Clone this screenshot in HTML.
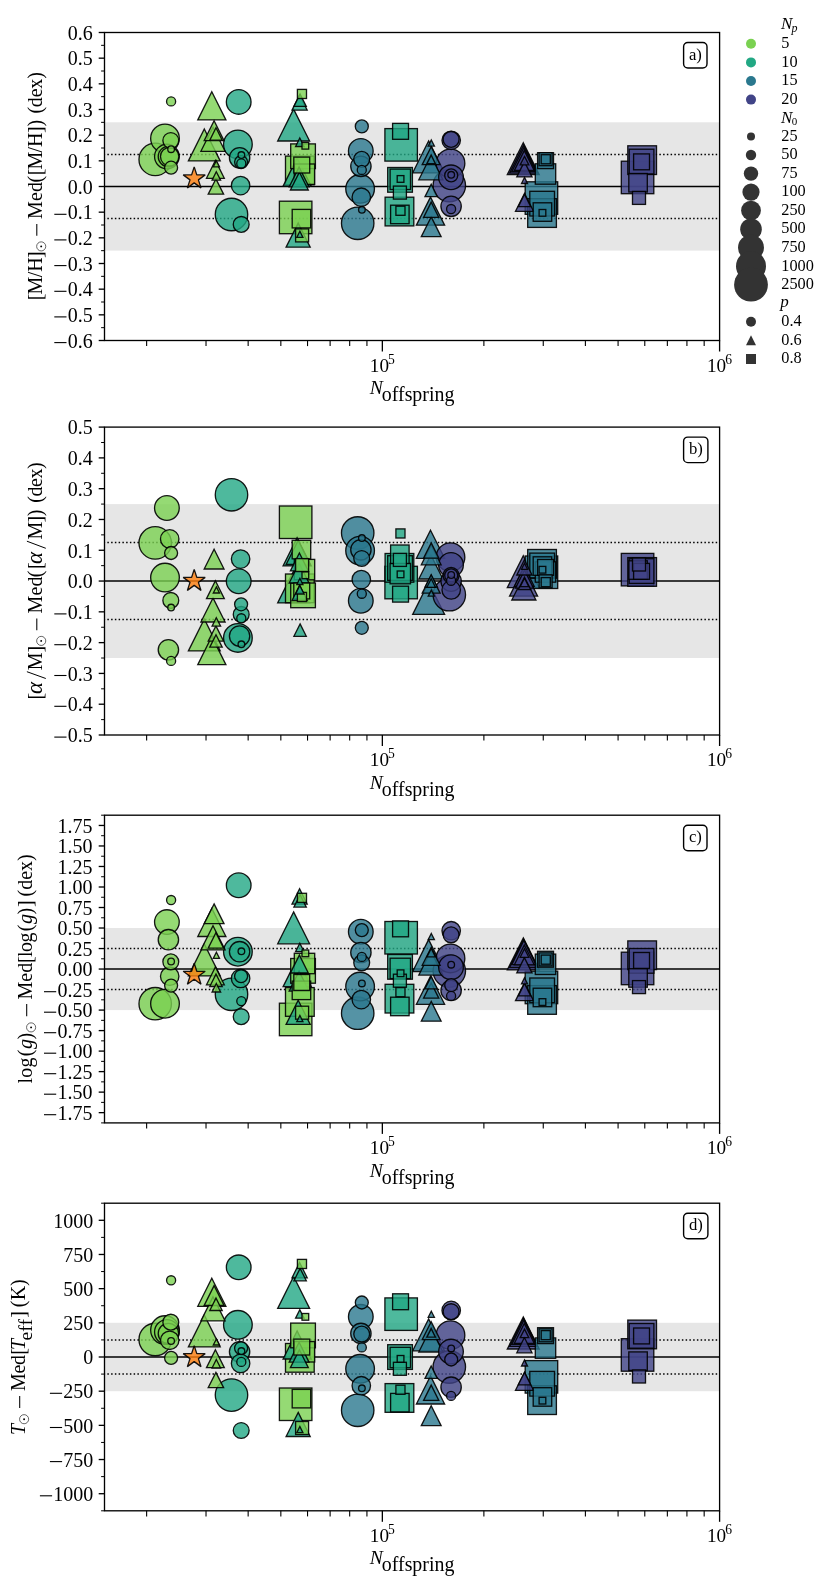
<!DOCTYPE html><html><head><meta charset="utf-8"><style>html,body{margin:0;padding:0;background:#fff}</style></head><body><svg width="831" height="1586" viewBox="0 0 831 1586" style="display:block;font-family:'Liberation Serif',serif">
<rect width="831" height="1586" fill="#fff"/>
<rect x="104.5" y="122.3" width="615.1" height="128.3" fill="#e6e6e6"/>
<line x1="104.5" x2="719.6" y1="154.4" y2="154.4" stroke="#000" stroke-width="1.5" stroke-dasharray="1.5 2.255" stroke-dashoffset="0.9"/>
<line x1="104.5" x2="719.6" y1="218.6" y2="218.6" stroke="#000" stroke-width="1.5" stroke-dasharray="1.5 2.255" stroke-dashoffset="0.9"/>
<line x1="104.5" x2="719.6" y1="186.5" y2="186.5" stroke="#000" stroke-width="1.5"/>
<g>
<circle cx="155.2" cy="159.4" r="16.23" fill="#7ad151" fill-opacity="0.8" stroke="#000" stroke-opacity="0.9" stroke-width="1.33"/>
<path d="M204.3 129.0L220.2 160.9L188.4 160.9Z" fill="#7ad151" fill-opacity="0.8" stroke="#000" stroke-opacity="0.9" stroke-width="1.33" stroke-linejoin="miter"/>
<circle cx="231.5" cy="214.5" r="16.23" fill="#22a884" fill-opacity="0.8" stroke="#000" stroke-opacity="0.9" stroke-width="1.33"/>
<rect x="279.4" y="201.2" width="32.5" height="32.5" fill="#7ad151" fill-opacity="0.8" stroke="#000" stroke-opacity="0.9" stroke-width="1.33"/>
<path d="M293.6 109.1L309.6 141.0L277.7 141.0Z" fill="#22a884" fill-opacity="0.8" stroke="#000" stroke-opacity="0.9" stroke-width="1.33" stroke-linejoin="miter"/>
<circle cx="357.7" cy="223.3" r="16.23" fill="#2a788e" fill-opacity="0.8" stroke="#000" stroke-opacity="0.9" stroke-width="1.33"/>
<rect x="384.9" y="128.6" width="32.5" height="32.5" fill="#22a884" fill-opacity="0.8" stroke="#000" stroke-opacity="0.9" stroke-width="1.33"/>
<path d="M428.6 140.9L444.6 172.8L412.7 172.8Z" fill="#2a788e" fill-opacity="0.8" stroke="#000" stroke-opacity="0.9" stroke-width="1.33" stroke-linejoin="miter"/>
<circle cx="449.3" cy="185.5" r="16.23" fill="#414487" fill-opacity="0.8" stroke="#000" stroke-opacity="0.9" stroke-width="1.33"/>
<path d="M523.3 142.7L539.2 174.6L507.3 174.6Z" fill="#414487" fill-opacity="0.8" stroke="#000" stroke-opacity="0.9" stroke-width="1.33" stroke-linejoin="miter"/>
<rect x="525.2" y="181.8" width="32.5" height="32.5" fill="#2a788e" fill-opacity="0.8" stroke="#000" stroke-opacity="0.9" stroke-width="1.33"/>
<rect x="621.3" y="161.2" width="32.5" height="32.5" fill="#414487" fill-opacity="0.8" stroke="#000" stroke-opacity="0.9" stroke-width="1.33"/>
<circle cx="165.0" cy="138.4" r="14.34" fill="#7ad151" fill-opacity="0.8" stroke="#000" stroke-opacity="0.9" stroke-width="1.33"/>
<path d="M211.8 91.8L225.9 119.9L197.8 119.9Z" fill="#7ad151" fill-opacity="0.8" stroke="#000" stroke-opacity="0.9" stroke-width="1.33" stroke-linejoin="miter"/>
<circle cx="237.9" cy="144.4" r="14.34" fill="#22a884" fill-opacity="0.8" stroke="#000" stroke-opacity="0.9" stroke-width="1.33"/>
<rect x="285.5" y="156.1" width="28.7" height="28.7" fill="#7ad151" fill-opacity="0.8" stroke="#000" stroke-opacity="0.9" stroke-width="1.33"/>
<path d="M297.1 158.1L311.2 186.2L283.1 186.2Z" fill="#22a884" fill-opacity="0.8" stroke="#000" stroke-opacity="0.9" stroke-width="1.33" stroke-linejoin="miter"/>
<circle cx="360.1" cy="188.8" r="14.34" fill="#2a788e" fill-opacity="0.8" stroke="#000" stroke-opacity="0.9" stroke-width="1.33"/>
<rect x="385.1" y="197.2" width="28.7" height="28.7" fill="#22a884" fill-opacity="0.8" stroke="#000" stroke-opacity="0.9" stroke-width="1.33"/>
<path d="M430.5 197.1L444.6 225.2L416.4 225.2Z" fill="#2a788e" fill-opacity="0.8" stroke="#000" stroke-opacity="0.9" stroke-width="1.33" stroke-linejoin="miter"/>
<circle cx="450.5" cy="163.4" r="14.34" fill="#414487" fill-opacity="0.8" stroke="#000" stroke-opacity="0.9" stroke-width="1.33"/>
<path d="M523.6 145.1L537.6 173.2L509.6 173.2Z" fill="#414487" fill-opacity="0.8" stroke="#000" stroke-opacity="0.9" stroke-width="1.33" stroke-linejoin="miter"/>
<rect x="527.7" y="198.7" width="28.7" height="28.7" fill="#2a788e" fill-opacity="0.8" stroke="#000" stroke-opacity="0.9" stroke-width="1.33"/>
<rect x="627.8" y="145.8" width="28.7" height="28.7" fill="#414487" fill-opacity="0.8" stroke="#000" stroke-opacity="0.9" stroke-width="1.33"/>
<circle cx="166.9" cy="156.6" r="12.34" fill="#7ad151" fill-opacity="0.8" stroke="#000" stroke-opacity="0.9" stroke-width="1.33"/>
<path d="M213.0 127.2L225.1 151.3L200.9 151.3Z" fill="#7ad151" fill-opacity="0.8" stroke="#000" stroke-opacity="0.9" stroke-width="1.33" stroke-linejoin="miter"/>
<circle cx="238.7" cy="101.9" r="12.34" fill="#22a884" fill-opacity="0.8" stroke="#000" stroke-opacity="0.9" stroke-width="1.33"/>
<rect x="290.7" y="143.9" width="24.7" height="24.7" fill="#7ad151" fill-opacity="0.8" stroke="#000" stroke-opacity="0.9" stroke-width="1.33"/>
<path d="M298.2 223.1L310.2 247.2L286.1 247.2Z" fill="#22a884" fill-opacity="0.8" stroke="#000" stroke-opacity="0.9" stroke-width="1.33" stroke-linejoin="miter"/>
<circle cx="360.8" cy="150.9" r="12.34" fill="#2a788e" fill-opacity="0.8" stroke="#000" stroke-opacity="0.9" stroke-width="1.33"/>
<rect x="387.7" y="167.5" width="24.7" height="24.7" fill="#22a884" fill-opacity="0.8" stroke="#000" stroke-opacity="0.9" stroke-width="1.33"/>
<path d="M430.8 155.7L442.9 179.8L418.8 179.8Z" fill="#2a788e" fill-opacity="0.8" stroke="#000" stroke-opacity="0.9" stroke-width="1.33" stroke-linejoin="miter"/>
<circle cx="451.0" cy="177.3" r="12.34" fill="#414487" fill-opacity="0.8" stroke="#000" stroke-opacity="0.9" stroke-width="1.33"/>
<path d="M523.9 147.6L535.9 171.7L511.8 171.7Z" fill="#414487" fill-opacity="0.8" stroke="#000" stroke-opacity="0.9" stroke-width="1.33" stroke-linejoin="miter"/>
<rect x="529.8" y="191.3" width="24.7" height="24.7" fill="#2a788e" fill-opacity="0.8" stroke="#000" stroke-opacity="0.9" stroke-width="1.33"/>
<rect x="629.2" y="149.2" width="24.7" height="24.7" fill="#414487" fill-opacity="0.8" stroke="#000" stroke-opacity="0.9" stroke-width="1.33"/>
<circle cx="168.4" cy="156.6" r="10.18" fill="#7ad151" fill-opacity="0.8" stroke="#000" stroke-opacity="0.9" stroke-width="1.33"/>
<path d="M214.1 120.8L224.0 140.6L204.2 140.6Z" fill="#7ad151" fill-opacity="0.8" stroke="#000" stroke-opacity="0.9" stroke-width="1.33" stroke-linejoin="miter"/>
<circle cx="239.6" cy="157.8" r="10.18" fill="#22a884" fill-opacity="0.8" stroke="#000" stroke-opacity="0.9" stroke-width="1.33"/>
<rect x="294.3" y="164.0" width="20.4" height="20.4" fill="#7ad151" fill-opacity="0.8" stroke="#000" stroke-opacity="0.9" stroke-width="1.33"/>
<path d="M299.1 167.1L309.0 186.9L289.2 186.9Z" fill="#22a884" fill-opacity="0.8" stroke="#000" stroke-opacity="0.9" stroke-width="1.33" stroke-linejoin="miter"/>
<circle cx="360.9" cy="166.3" r="10.18" fill="#2a788e" fill-opacity="0.8" stroke="#000" stroke-opacity="0.9" stroke-width="1.33"/>
<rect x="390.1" y="169.1" width="20.4" height="20.4" fill="#22a884" fill-opacity="0.8" stroke="#000" stroke-opacity="0.9" stroke-width="1.33"/>
<path d="M431.2 216.9L441.1 236.7L421.3 236.7Z" fill="#2a788e" fill-opacity="0.8" stroke="#000" stroke-opacity="0.9" stroke-width="1.33" stroke-linejoin="miter"/>
<circle cx="451.1" cy="206.3" r="10.18" fill="#414487" fill-opacity="0.8" stroke="#000" stroke-opacity="0.9" stroke-width="1.33"/>
<path d="M524.3 150.6L534.2 170.4L514.4 170.4Z" fill="#414487" fill-opacity="0.8" stroke="#000" stroke-opacity="0.9" stroke-width="1.33" stroke-linejoin="miter"/>
<rect x="535.3" y="163.8" width="20.4" height="20.4" fill="#2a788e" fill-opacity="0.8" stroke="#000" stroke-opacity="0.9" stroke-width="1.33"/>
<circle cx="169.7" cy="156.6" r="9.23" fill="#7ad151" fill-opacity="0.8" stroke="#000" stroke-opacity="0.9" stroke-width="1.33"/>
<path d="M215.4 160.4L224.3 178.3L206.5 178.3Z" fill="#7ad151" fill-opacity="0.8" stroke="#000" stroke-opacity="0.9" stroke-width="1.33" stroke-linejoin="miter"/>
<circle cx="240.6" cy="185.6" r="9.23" fill="#22a884" fill-opacity="0.8" stroke="#000" stroke-opacity="0.9" stroke-width="1.33"/>
<rect x="292.2" y="209.4" width="18.5" height="18.5" fill="#7ad151" fill-opacity="0.8" stroke="#000" stroke-opacity="0.9" stroke-width="1.33"/>
<path d="M299.4 172.1L308.3 190.0L290.4 190.0Z" fill="#22a884" fill-opacity="0.8" stroke="#000" stroke-opacity="0.9" stroke-width="1.33" stroke-linejoin="miter"/>
<circle cx="361.3" cy="197.2" r="9.23" fill="#2a788e" fill-opacity="0.8" stroke="#000" stroke-opacity="0.9" stroke-width="1.33"/>
<rect x="390.6" y="205.2" width="18.5" height="18.5" fill="#22a884" fill-opacity="0.8" stroke="#000" stroke-opacity="0.9" stroke-width="1.33"/>
<path d="M431.2 146.7L440.1 164.6L422.2 164.6Z" fill="#2a788e" fill-opacity="0.8" stroke="#000" stroke-opacity="0.9" stroke-width="1.33" stroke-linejoin="miter"/>
<circle cx="451.2" cy="140.3" r="9.23" fill="#414487" fill-opacity="0.8" stroke="#000" stroke-opacity="0.9" stroke-width="1.33"/>
<path d="M524.5 193.4L533.5 211.3L515.5 211.3Z" fill="#414487" fill-opacity="0.8" stroke="#000" stroke-opacity="0.9" stroke-width="1.33" stroke-linejoin="miter"/>
<rect x="533.2" y="202.8" width="18.5" height="18.5" fill="#2a788e" fill-opacity="0.8" stroke="#000" stroke-opacity="0.9" stroke-width="1.33"/>
<rect x="628.8" y="173.5" width="18.5" height="18.5" fill="#414487" fill-opacity="0.8" stroke="#000" stroke-opacity="0.9" stroke-width="1.33"/>
<circle cx="170.8" cy="140.5" r="7.93" fill="#7ad151" fill-opacity="0.8" stroke="#000" stroke-opacity="0.9" stroke-width="1.33"/>
<path d="M215.9 178.9L223.6 194.2L208.2 194.2Z" fill="#7ad151" fill-opacity="0.8" stroke="#000" stroke-opacity="0.9" stroke-width="1.33" stroke-linejoin="miter"/>
<circle cx="241.2" cy="224.4" r="7.93" fill="#22a884" fill-opacity="0.8" stroke="#000" stroke-opacity="0.9" stroke-width="1.33"/>
<rect x="293.8" y="157.1" width="15.9" height="15.9" fill="#7ad151" fill-opacity="0.8" stroke="#000" stroke-opacity="0.9" stroke-width="1.33"/>
<path d="M299.6 94.9L307.2 110.2L292.0 110.2Z" fill="#22a884" fill-opacity="0.8" stroke="#000" stroke-opacity="0.9" stroke-width="1.33" stroke-linejoin="miter"/>
<circle cx="361.7" cy="159.3" r="7.93" fill="#2a788e" fill-opacity="0.8" stroke="#000" stroke-opacity="0.9" stroke-width="1.33"/>
<rect x="392.6" y="123.4" width="15.9" height="15.9" fill="#22a884" fill-opacity="0.8" stroke="#000" stroke-opacity="0.9" stroke-width="1.33"/>
<path d="M431.2 202.1L438.8 217.4L423.6 217.4Z" fill="#2a788e" fill-opacity="0.8" stroke="#000" stroke-opacity="0.9" stroke-width="1.33" stroke-linejoin="miter"/>
<circle cx="451.1" cy="139.4" r="7.93" fill="#414487" fill-opacity="0.8" stroke="#000" stroke-opacity="0.9" stroke-width="1.33"/>
<path d="M524.4 161.6L532.0 176.9L516.8 176.9Z" fill="#414487" fill-opacity="0.8" stroke="#000" stroke-opacity="0.9" stroke-width="1.33" stroke-linejoin="miter"/>
<rect x="537.6" y="152.7" width="15.9" height="15.9" fill="#2a788e" fill-opacity="0.8" stroke="#000" stroke-opacity="0.9" stroke-width="1.33"/>
<rect x="633.6" y="153.9" width="15.9" height="15.9" fill="#414487" fill-opacity="0.8" stroke="#000" stroke-opacity="0.9" stroke-width="1.33"/>
<circle cx="171.1" cy="167.7" r="6.49" fill="#7ad151" fill-opacity="0.8" stroke="#000" stroke-opacity="0.9" stroke-width="1.33"/>
<path d="M216.0 127.8L222.2 140.2L209.8 140.2Z" fill="#7ad151" fill-opacity="0.8" stroke="#000" stroke-opacity="0.9" stroke-width="1.33" stroke-linejoin="miter"/>
<circle cx="241.1" cy="162.1" r="6.49" fill="#22a884" fill-opacity="0.8" stroke="#000" stroke-opacity="0.9" stroke-width="1.33"/>
<rect x="295.6" y="228.9" width="13.0" height="13.0" fill="#7ad151" fill-opacity="0.8" stroke="#000" stroke-opacity="0.9" stroke-width="1.33"/>
<path d="M300.1 94.0L306.3 106.4L293.9 106.4Z" fill="#22a884" fill-opacity="0.8" stroke="#000" stroke-opacity="0.9" stroke-width="1.33" stroke-linejoin="miter"/>
<circle cx="361.8" cy="126.4" r="6.49" fill="#2a788e" fill-opacity="0.8" stroke="#000" stroke-opacity="0.9" stroke-width="1.33"/>
<rect x="393.4" y="186.1" width="13.0" height="13.0" fill="#22a884" fill-opacity="0.8" stroke="#000" stroke-opacity="0.9" stroke-width="1.33"/>
<path d="M431.2 184.2L437.4 196.6L425.0 196.6Z" fill="#2a788e" fill-opacity="0.8" stroke="#000" stroke-opacity="0.9" stroke-width="1.33" stroke-linejoin="miter"/>
<circle cx="451.2" cy="175.4" r="6.49" fill="#414487" fill-opacity="0.8" stroke="#000" stroke-opacity="0.9" stroke-width="1.33"/>
<path d="M524.5 194.2L530.7 206.6L518.3 206.6Z" fill="#414487" fill-opacity="0.8" stroke="#000" stroke-opacity="0.9" stroke-width="1.33" stroke-linejoin="miter"/>
<rect x="539.1" y="152.7" width="13.0" height="13.0" fill="#2a788e" fill-opacity="0.8" stroke="#000" stroke-opacity="0.9" stroke-width="1.33"/>
<rect x="632.5" y="191.4" width="13.0" height="13.0" fill="#414487" fill-opacity="0.8" stroke="#000" stroke-opacity="0.9" stroke-width="1.33"/>
<circle cx="171.1" cy="101.4" r="4.54" fill="#7ad151" fill-opacity="0.8" stroke="#000" stroke-opacity="0.9" stroke-width="1.33"/>
<path d="M216.3 171.7L220.6 180.2L212.1 180.2Z" fill="#7ad151" fill-opacity="0.8" stroke="#000" stroke-opacity="0.9" stroke-width="1.33" stroke-linejoin="miter"/>
<circle cx="241.3" cy="163.4" r="4.54" fill="#22a884" fill-opacity="0.8" stroke="#000" stroke-opacity="0.9" stroke-width="1.33"/>
<rect x="297.4" y="89.4" width="9.1" height="9.1" fill="#7ad151" fill-opacity="0.8" stroke="#000" stroke-opacity="0.9" stroke-width="1.33"/>
<path d="M299.8 138.0L304.1 146.5L295.6 146.5Z" fill="#22a884" fill-opacity="0.8" stroke="#000" stroke-opacity="0.9" stroke-width="1.33" stroke-linejoin="miter"/>
<circle cx="361.8" cy="169.9" r="4.54" fill="#2a788e" fill-opacity="0.8" stroke="#000" stroke-opacity="0.9" stroke-width="1.33"/>
<rect x="395.9" y="206.2" width="9.1" height="9.1" fill="#22a884" fill-opacity="0.8" stroke="#000" stroke-opacity="0.9" stroke-width="1.33"/>
<path d="M431.2 155.1L435.4 163.6L426.9 163.6Z" fill="#2a788e" fill-opacity="0.8" stroke="#000" stroke-opacity="0.9" stroke-width="1.33" stroke-linejoin="miter"/>
<circle cx="451.1" cy="209.0" r="4.54" fill="#414487" fill-opacity="0.8" stroke="#000" stroke-opacity="0.9" stroke-width="1.33"/>
<path d="M524.5 156.4L528.8 164.9L520.2 164.9Z" fill="#414487" fill-opacity="0.8" stroke="#000" stroke-opacity="0.9" stroke-width="1.33" stroke-linejoin="miter"/>
<rect x="541.2" y="154.7" width="9.1" height="9.1" fill="#2a788e" fill-opacity="0.8" stroke="#000" stroke-opacity="0.9" stroke-width="1.33"/>
<circle cx="171.1" cy="149.2" r="3.33" fill="#7ad151" fill-opacity="0.8" stroke="#000" stroke-opacity="0.9" stroke-width="1.33"/>
<path d="M216.4 160.7L219.5 166.8L213.3 166.8Z" fill="#7ad151" fill-opacity="0.8" stroke="#000" stroke-opacity="0.9" stroke-width="1.33" stroke-linejoin="miter"/>
<circle cx="241.4" cy="155.1" r="3.33" fill="#22a884" fill-opacity="0.8" stroke="#000" stroke-opacity="0.9" stroke-width="1.33"/>
<rect x="302.0" y="142.4" width="6.7" height="6.7" fill="#7ad151" fill-opacity="0.8" stroke="#000" stroke-opacity="0.9" stroke-width="1.33"/>
<path d="M299.9 231.3L302.9 237.4L296.8 237.4Z" fill="#22a884" fill-opacity="0.8" stroke="#000" stroke-opacity="0.9" stroke-width="1.33" stroke-linejoin="miter"/>
<circle cx="361.9" cy="209.8" r="3.33" fill="#2a788e" fill-opacity="0.8" stroke="#000" stroke-opacity="0.9" stroke-width="1.33"/>
<rect x="397.2" y="175.6" width="6.7" height="6.7" fill="#22a884" fill-opacity="0.8" stroke="#000" stroke-opacity="0.9" stroke-width="1.33"/>
<path d="M431.3 140.0L434.4 146.1L428.2 146.1Z" fill="#2a788e" fill-opacity="0.8" stroke="#000" stroke-opacity="0.9" stroke-width="1.33" stroke-linejoin="miter"/>
<circle cx="451.2" cy="174.8" r="3.33" fill="#414487" fill-opacity="0.8" stroke="#000" stroke-opacity="0.9" stroke-width="1.33"/>
<path d="M524.5 177.4L527.5 183.5L521.5 183.5Z" fill="#414487" fill-opacity="0.8" stroke="#000" stroke-opacity="0.9" stroke-width="1.33" stroke-linejoin="miter"/>
<rect x="539.1" y="209.5" width="6.7" height="6.7" fill="#2a788e" fill-opacity="0.8" stroke="#000" stroke-opacity="0.9" stroke-width="1.33"/>
<polygon points="194.2,166.9 196.8,174.9 205.2,174.9 198.4,179.9 201.0,187.9 194.2,182.9 187.4,187.9 190.0,179.9 183.2,174.9 191.6,174.9" fill="#ff7f0e" fill-opacity="0.8" stroke="#000" stroke-opacity="0.9" stroke-width="1.33" stroke-linejoin="bevel"/>
</g>
<rect x="104.5" y="32.5" width="615.1" height="308.0" fill="none" stroke="#000" stroke-width="1.33"/>
<line x1="98.7" x2="104.5" y1="340.50" y2="340.50" stroke="#000" stroke-width="1.33"/>
<line x1="54.3" x2="66.5" y1="342.6" y2="342.6" stroke="#000" stroke-width="1.1"/>
<line x1="98.7" x2="104.5" y1="314.83" y2="314.83" stroke="#000" stroke-width="1.33"/>
<line x1="54.3" x2="66.5" y1="316.9" y2="316.9" stroke="#000" stroke-width="1.1"/>
<line x1="98.7" x2="104.5" y1="289.17" y2="289.17" stroke="#000" stroke-width="1.33"/>
<line x1="54.3" x2="66.5" y1="291.3" y2="291.3" stroke="#000" stroke-width="1.1"/>
<line x1="98.7" x2="104.5" y1="263.50" y2="263.50" stroke="#000" stroke-width="1.33"/>
<line x1="54.3" x2="66.5" y1="265.6" y2="265.6" stroke="#000" stroke-width="1.1"/>
<line x1="98.7" x2="104.5" y1="237.83" y2="237.83" stroke="#000" stroke-width="1.33"/>
<line x1="54.3" x2="66.5" y1="239.9" y2="239.9" stroke="#000" stroke-width="1.1"/>
<line x1="98.7" x2="104.5" y1="212.17" y2="212.17" stroke="#000" stroke-width="1.33"/>
<line x1="54.3" x2="66.5" y1="214.3" y2="214.3" stroke="#000" stroke-width="1.1"/>
<line x1="98.7" x2="104.5" y1="186.50" y2="186.50" stroke="#000" stroke-width="1.33"/>
<line x1="98.7" x2="104.5" y1="160.83" y2="160.83" stroke="#000" stroke-width="1.33"/>
<line x1="98.7" x2="104.5" y1="135.17" y2="135.17" stroke="#000" stroke-width="1.33"/>
<line x1="98.7" x2="104.5" y1="109.50" y2="109.50" stroke="#000" stroke-width="1.33"/>
<line x1="98.7" x2="104.5" y1="83.83" y2="83.83" stroke="#000" stroke-width="1.33"/>
<line x1="98.7" x2="104.5" y1="58.17" y2="58.17" stroke="#000" stroke-width="1.33"/>
<line x1="98.7" x2="104.5" y1="32.50" y2="32.50" stroke="#000" stroke-width="1.33"/>
<line x1="101.1" x2="104.5" y1="327.67" y2="327.67" stroke="#000" stroke-width="1"/>
<line x1="101.1" x2="104.5" y1="302.00" y2="302.00" stroke="#000" stroke-width="1"/>
<line x1="101.1" x2="104.5" y1="276.33" y2="276.33" stroke="#000" stroke-width="1"/>
<line x1="101.1" x2="104.5" y1="250.67" y2="250.67" stroke="#000" stroke-width="1"/>
<line x1="101.1" x2="104.5" y1="225.00" y2="225.00" stroke="#000" stroke-width="1"/>
<line x1="101.1" x2="104.5" y1="199.33" y2="199.33" stroke="#000" stroke-width="1"/>
<line x1="101.1" x2="104.5" y1="173.67" y2="173.67" stroke="#000" stroke-width="1"/>
<line x1="101.1" x2="104.5" y1="148.00" y2="148.00" stroke="#000" stroke-width="1"/>
<line x1="101.1" x2="104.5" y1="122.33" y2="122.33" stroke="#000" stroke-width="1"/>
<line x1="101.1" x2="104.5" y1="96.67" y2="96.67" stroke="#000" stroke-width="1"/>
<line x1="101.1" x2="104.5" y1="71.00" y2="71.00" stroke="#000" stroke-width="1"/>
<line x1="101.1" x2="104.5" y1="45.33" y2="45.33" stroke="#000" stroke-width="1"/>
<line x1="146.63" x2="146.63" y1="340.5" y2="346.1" stroke="#000" stroke-width="1.1"/>
<line x1="206.02" x2="206.02" y1="340.5" y2="346.1" stroke="#000" stroke-width="1.1"/>
<line x1="248.15" x2="248.15" y1="340.5" y2="346.1" stroke="#000" stroke-width="1.1"/>
<line x1="280.84" x2="280.84" y1="340.5" y2="346.1" stroke="#000" stroke-width="1.1"/>
<line x1="307.54" x2="307.54" y1="340.5" y2="346.1" stroke="#000" stroke-width="1.1"/>
<line x1="330.12" x2="330.12" y1="340.5" y2="346.1" stroke="#000" stroke-width="1.1"/>
<line x1="349.68" x2="349.68" y1="340.5" y2="346.1" stroke="#000" stroke-width="1.1"/>
<line x1="366.93" x2="366.93" y1="340.5" y2="346.1" stroke="#000" stroke-width="1.1"/>
<line x1="382.36" x2="382.36" y1="340.5" y2="351.5" stroke="#000" stroke-width="1.33"/>
<line x1="483.88" x2="483.88" y1="340.5" y2="346.1" stroke="#000" stroke-width="1.1"/>
<line x1="543.26" x2="543.26" y1="340.5" y2="346.1" stroke="#000" stroke-width="1.1"/>
<line x1="585.40" x2="585.40" y1="340.5" y2="346.1" stroke="#000" stroke-width="1.1"/>
<line x1="618.08" x2="618.08" y1="340.5" y2="346.1" stroke="#000" stroke-width="1.1"/>
<line x1="644.78" x2="644.78" y1="340.5" y2="346.1" stroke="#000" stroke-width="1.1"/>
<line x1="667.36" x2="667.36" y1="340.5" y2="346.1" stroke="#000" stroke-width="1.1"/>
<line x1="686.92" x2="686.92" y1="340.5" y2="346.1" stroke="#000" stroke-width="1.1"/>
<line x1="704.17" x2="704.17" y1="340.5" y2="346.1" stroke="#000" stroke-width="1.1"/>
<line x1="719.6" x2="719.6" y1="340.5" y2="351.5" stroke="#000" stroke-width="1.33"/>
<rect x="683.6" y="42.5" width="23.4" height="25.5" rx="4.2" fill="#fff" stroke="#000" stroke-width="1.4"/>
<rect x="104.5" y="504.1" width="615.1" height="153.9" fill="#e6e6e6"/>
<line x1="104.5" x2="719.6" y1="542.6" y2="542.6" stroke="#000" stroke-width="1.5" stroke-dasharray="1.5 2.255" stroke-dashoffset="0.9"/>
<line x1="104.5" x2="719.6" y1="619.5" y2="619.5" stroke="#000" stroke-width="1.5" stroke-dasharray="1.5 2.255" stroke-dashoffset="0.9"/>
<line x1="104.5" x2="719.6" y1="581.0" y2="581.0" stroke="#000" stroke-width="1.5"/>
<g>
<circle cx="155.2" cy="542.9" r="16.23" fill="#7ad151" fill-opacity="0.8" stroke="#000" stroke-opacity="0.9" stroke-width="1.33"/>
<path d="M204.3 619.0L220.2 650.9L188.4 650.9Z" fill="#7ad151" fill-opacity="0.8" stroke="#000" stroke-opacity="0.9" stroke-width="1.33" stroke-linejoin="miter"/>
<circle cx="231.5" cy="494.8" r="16.23" fill="#22a884" fill-opacity="0.8" stroke="#000" stroke-opacity="0.9" stroke-width="1.33"/>
<rect x="279.4" y="506.0" width="32.5" height="32.5" fill="#7ad151" fill-opacity="0.8" stroke="#000" stroke-opacity="0.9" stroke-width="1.33"/>
<path d="M293.6 571.0L309.6 602.9L277.7 602.9Z" fill="#22a884" fill-opacity="0.8" stroke="#000" stroke-opacity="0.9" stroke-width="1.33" stroke-linejoin="miter"/>
<circle cx="357.7" cy="533.0" r="16.23" fill="#2a788e" fill-opacity="0.8" stroke="#000" stroke-opacity="0.9" stroke-width="1.33"/>
<rect x="384.9" y="566.3" width="32.5" height="32.5" fill="#22a884" fill-opacity="0.8" stroke="#000" stroke-opacity="0.9" stroke-width="1.33"/>
<path d="M428.6 582.5L444.6 614.4L412.7 614.4Z" fill="#2a788e" fill-opacity="0.8" stroke="#000" stroke-opacity="0.9" stroke-width="1.33" stroke-linejoin="miter"/>
<circle cx="449.3" cy="594.7" r="16.23" fill="#414487" fill-opacity="0.8" stroke="#000" stroke-opacity="0.9" stroke-width="1.33"/>
<path d="M523.3 555.7L539.2 587.6L507.3 587.6Z" fill="#414487" fill-opacity="0.8" stroke="#000" stroke-opacity="0.9" stroke-width="1.33" stroke-linejoin="miter"/>
<rect x="525.2" y="556.0" width="32.5" height="32.5" fill="#2a788e" fill-opacity="0.8" stroke="#000" stroke-opacity="0.9" stroke-width="1.33"/>
<rect x="621.3" y="553.4" width="32.5" height="32.5" fill="#414487" fill-opacity="0.8" stroke="#000" stroke-opacity="0.9" stroke-width="1.33"/>
<circle cx="165.0" cy="577.6" r="14.34" fill="#7ad151" fill-opacity="0.8" stroke="#000" stroke-opacity="0.9" stroke-width="1.33"/>
<path d="M211.8 636.5L225.9 664.6L197.8 664.6Z" fill="#7ad151" fill-opacity="0.8" stroke="#000" stroke-opacity="0.9" stroke-width="1.33" stroke-linejoin="miter"/>
<circle cx="237.9" cy="637.9" r="14.34" fill="#22a884" fill-opacity="0.8" stroke="#000" stroke-opacity="0.9" stroke-width="1.33"/>
<rect x="285.5" y="574.0" width="28.7" height="28.7" fill="#7ad151" fill-opacity="0.8" stroke="#000" stroke-opacity="0.9" stroke-width="1.33"/>
<path d="M297.1 537.8L311.2 565.9L283.1 565.9Z" fill="#22a884" fill-opacity="0.8" stroke="#000" stroke-opacity="0.9" stroke-width="1.33" stroke-linejoin="miter"/>
<circle cx="360.1" cy="550.7" r="14.34" fill="#2a788e" fill-opacity="0.8" stroke="#000" stroke-opacity="0.9" stroke-width="1.33"/>
<rect x="385.1" y="553.5" width="28.7" height="28.7" fill="#22a884" fill-opacity="0.8" stroke="#000" stroke-opacity="0.9" stroke-width="1.33"/>
<path d="M430.5 530.2L444.6 558.3L416.4 558.3Z" fill="#2a788e" fill-opacity="0.8" stroke="#000" stroke-opacity="0.9" stroke-width="1.33" stroke-linejoin="miter"/>
<circle cx="450.5" cy="557.2" r="14.34" fill="#414487" fill-opacity="0.8" stroke="#000" stroke-opacity="0.9" stroke-width="1.33"/>
<path d="M523.6 568.0L537.6 596.1L509.6 596.1Z" fill="#414487" fill-opacity="0.8" stroke="#000" stroke-opacity="0.9" stroke-width="1.33" stroke-linejoin="miter"/>
<rect x="527.7" y="549.5" width="28.7" height="28.7" fill="#2a788e" fill-opacity="0.8" stroke="#000" stroke-opacity="0.9" stroke-width="1.33"/>
<rect x="627.8" y="557.6" width="28.7" height="28.7" fill="#414487" fill-opacity="0.8" stroke="#000" stroke-opacity="0.9" stroke-width="1.33"/>
<circle cx="166.9" cy="508.0" r="12.34" fill="#7ad151" fill-opacity="0.8" stroke="#000" stroke-opacity="0.9" stroke-width="1.33"/>
<path d="M213.0 597.9L225.1 622.0L200.9 622.0Z" fill="#7ad151" fill-opacity="0.8" stroke="#000" stroke-opacity="0.9" stroke-width="1.33" stroke-linejoin="miter"/>
<circle cx="238.7" cy="581.2" r="12.34" fill="#22a884" fill-opacity="0.8" stroke="#000" stroke-opacity="0.9" stroke-width="1.33"/>
<rect x="290.7" y="583.0" width="24.7" height="24.7" fill="#7ad151" fill-opacity="0.8" stroke="#000" stroke-opacity="0.9" stroke-width="1.33"/>
<path d="M298.2 540.4L310.2 564.5L286.1 564.5Z" fill="#22a884" fill-opacity="0.8" stroke="#000" stroke-opacity="0.9" stroke-width="1.33" stroke-linejoin="miter"/>
<circle cx="360.8" cy="600.7" r="12.34" fill="#2a788e" fill-opacity="0.8" stroke="#000" stroke-opacity="0.9" stroke-width="1.33"/>
<rect x="387.7" y="555.7" width="24.7" height="24.7" fill="#22a884" fill-opacity="0.8" stroke="#000" stroke-opacity="0.9" stroke-width="1.33"/>
<path d="M430.8 554.9L442.9 579.0L418.8 579.0Z" fill="#2a788e" fill-opacity="0.8" stroke="#000" stroke-opacity="0.9" stroke-width="1.33" stroke-linejoin="miter"/>
<circle cx="451.0" cy="564.9" r="12.34" fill="#414487" fill-opacity="0.8" stroke="#000" stroke-opacity="0.9" stroke-width="1.33"/>
<path d="M523.9 575.9L535.9 600.0L511.8 600.0Z" fill="#414487" fill-opacity="0.8" stroke="#000" stroke-opacity="0.9" stroke-width="1.33" stroke-linejoin="miter"/>
<rect x="529.8" y="553.1" width="24.7" height="24.7" fill="#2a788e" fill-opacity="0.8" stroke="#000" stroke-opacity="0.9" stroke-width="1.33"/>
<rect x="629.2" y="558.7" width="24.7" height="24.7" fill="#414487" fill-opacity="0.8" stroke="#000" stroke-opacity="0.9" stroke-width="1.33"/>
<circle cx="168.4" cy="649.8" r="10.18" fill="#7ad151" fill-opacity="0.8" stroke="#000" stroke-opacity="0.9" stroke-width="1.33"/>
<path d="M214.1 549.2L224.0 569.0L204.2 569.0Z" fill="#7ad151" fill-opacity="0.8" stroke="#000" stroke-opacity="0.9" stroke-width="1.33" stroke-linejoin="miter"/>
<circle cx="239.6" cy="636.1" r="10.18" fill="#22a884" fill-opacity="0.8" stroke="#000" stroke-opacity="0.9" stroke-width="1.33"/>
<rect x="294.3" y="559.4" width="20.4" height="20.4" fill="#7ad151" fill-opacity="0.8" stroke="#000" stroke-opacity="0.9" stroke-width="1.33"/>
<path d="M299.1 563.2L309.0 583.0L289.2 583.0Z" fill="#22a884" fill-opacity="0.8" stroke="#000" stroke-opacity="0.9" stroke-width="1.33" stroke-linejoin="miter"/>
<circle cx="360.9" cy="549.8" r="10.18" fill="#2a788e" fill-opacity="0.8" stroke="#000" stroke-opacity="0.9" stroke-width="1.33"/>
<rect x="390.1" y="563.4" width="20.4" height="20.4" fill="#22a884" fill-opacity="0.8" stroke="#000" stroke-opacity="0.9" stroke-width="1.33"/>
<path d="M431.2 545.0L441.1 564.8L421.3 564.8Z" fill="#2a788e" fill-opacity="0.8" stroke="#000" stroke-opacity="0.9" stroke-width="1.33" stroke-linejoin="miter"/>
<circle cx="451.1" cy="581.2" r="10.18" fill="#414487" fill-opacity="0.8" stroke="#000" stroke-opacity="0.9" stroke-width="1.33"/>
<path d="M524.3 566.5L534.2 586.3L514.4 586.3Z" fill="#414487" fill-opacity="0.8" stroke="#000" stroke-opacity="0.9" stroke-width="1.33" stroke-linejoin="miter"/>
<rect x="535.3" y="561.8" width="20.4" height="20.4" fill="#2a788e" fill-opacity="0.8" stroke="#000" stroke-opacity="0.9" stroke-width="1.33"/>
<circle cx="169.7" cy="538.9" r="9.23" fill="#7ad151" fill-opacity="0.8" stroke="#000" stroke-opacity="0.9" stroke-width="1.33"/>
<path d="M215.4 580.7L224.3 598.6L206.5 598.6Z" fill="#7ad151" fill-opacity="0.8" stroke="#000" stroke-opacity="0.9" stroke-width="1.33" stroke-linejoin="miter"/>
<circle cx="240.6" cy="559.1" r="9.23" fill="#22a884" fill-opacity="0.8" stroke="#000" stroke-opacity="0.9" stroke-width="1.33"/>
<rect x="292.2" y="540.3" width="18.5" height="18.5" fill="#7ad151" fill-opacity="0.8" stroke="#000" stroke-opacity="0.9" stroke-width="1.33"/>
<path d="M299.4 553.0L308.3 570.9L290.4 570.9Z" fill="#22a884" fill-opacity="0.8" stroke="#000" stroke-opacity="0.9" stroke-width="1.33" stroke-linejoin="miter"/>
<circle cx="361.3" cy="579.6" r="9.23" fill="#2a788e" fill-opacity="0.8" stroke="#000" stroke-opacity="0.9" stroke-width="1.33"/>
<rect x="390.6" y="545.0" width="18.5" height="18.5" fill="#22a884" fill-opacity="0.8" stroke="#000" stroke-opacity="0.9" stroke-width="1.33"/>
<path d="M431.2 575.3L440.1 593.2L422.2 593.2Z" fill="#2a788e" fill-opacity="0.8" stroke="#000" stroke-opacity="0.9" stroke-width="1.33" stroke-linejoin="miter"/>
<circle cx="451.2" cy="589.9" r="9.23" fill="#414487" fill-opacity="0.8" stroke="#000" stroke-opacity="0.9" stroke-width="1.33"/>
<path d="M524.5 570.3L533.5 588.2L515.5 588.2Z" fill="#414487" fill-opacity="0.8" stroke="#000" stroke-opacity="0.9" stroke-width="1.33" stroke-linejoin="miter"/>
<rect x="533.2" y="556.8" width="18.5" height="18.5" fill="#2a788e" fill-opacity="0.8" stroke="#000" stroke-opacity="0.9" stroke-width="1.33"/>
<rect x="628.8" y="560.8" width="18.5" height="18.5" fill="#414487" fill-opacity="0.8" stroke="#000" stroke-opacity="0.9" stroke-width="1.33"/>
<circle cx="170.8" cy="600.4" r="7.93" fill="#7ad151" fill-opacity="0.8" stroke="#000" stroke-opacity="0.9" stroke-width="1.33"/>
<path d="M215.9 625.9L223.6 641.2L208.2 641.2Z" fill="#7ad151" fill-opacity="0.8" stroke="#000" stroke-opacity="0.9" stroke-width="1.33" stroke-linejoin="miter"/>
<circle cx="241.2" cy="614.4" r="7.93" fill="#22a884" fill-opacity="0.8" stroke="#000" stroke-opacity="0.9" stroke-width="1.33"/>
<rect x="293.8" y="583.0" width="15.9" height="15.9" fill="#7ad151" fill-opacity="0.8" stroke="#000" stroke-opacity="0.9" stroke-width="1.33"/>
<path d="M299.6 585.2L307.2 600.5L292.0 600.5Z" fill="#22a884" fill-opacity="0.8" stroke="#000" stroke-opacity="0.9" stroke-width="1.33" stroke-linejoin="miter"/>
<circle cx="361.7" cy="558.5" r="7.93" fill="#2a788e" fill-opacity="0.8" stroke="#000" stroke-opacity="0.9" stroke-width="1.33"/>
<rect x="392.6" y="586.2" width="15.9" height="15.9" fill="#22a884" fill-opacity="0.8" stroke="#000" stroke-opacity="0.9" stroke-width="1.33"/>
<path d="M431.2 542.9L438.8 558.2L423.6 558.2Z" fill="#2a788e" fill-opacity="0.8" stroke="#000" stroke-opacity="0.9" stroke-width="1.33" stroke-linejoin="miter"/>
<circle cx="451.1" cy="575.4" r="7.93" fill="#414487" fill-opacity="0.8" stroke="#000" stroke-opacity="0.9" stroke-width="1.33"/>
<path d="M524.4 559.7L532.0 575.0L516.8 575.0Z" fill="#414487" fill-opacity="0.8" stroke="#000" stroke-opacity="0.9" stroke-width="1.33" stroke-linejoin="miter"/>
<rect x="537.6" y="559.5" width="15.9" height="15.9" fill="#2a788e" fill-opacity="0.8" stroke="#000" stroke-opacity="0.9" stroke-width="1.33"/>
<rect x="633.6" y="563.4" width="15.9" height="15.9" fill="#414487" fill-opacity="0.8" stroke="#000" stroke-opacity="0.9" stroke-width="1.33"/>
<circle cx="171.1" cy="553.0" r="6.49" fill="#7ad151" fill-opacity="0.8" stroke="#000" stroke-opacity="0.9" stroke-width="1.33"/>
<path d="M216.0 634.7L222.2 647.1L209.8 647.1Z" fill="#7ad151" fill-opacity="0.8" stroke="#000" stroke-opacity="0.9" stroke-width="1.33" stroke-linejoin="miter"/>
<circle cx="241.1" cy="604.3" r="6.49" fill="#22a884" fill-opacity="0.8" stroke="#000" stroke-opacity="0.9" stroke-width="1.33"/>
<rect x="295.6" y="558.6" width="13.0" height="13.0" fill="#7ad151" fill-opacity="0.8" stroke="#000" stroke-opacity="0.9" stroke-width="1.33"/>
<path d="M300.1 623.9L306.3 636.3L293.9 636.3Z" fill="#22a884" fill-opacity="0.8" stroke="#000" stroke-opacity="0.9" stroke-width="1.33" stroke-linejoin="miter"/>
<circle cx="361.8" cy="627.8" r="6.49" fill="#2a788e" fill-opacity="0.8" stroke="#000" stroke-opacity="0.9" stroke-width="1.33"/>
<rect x="393.4" y="553.4" width="13.0" height="13.0" fill="#22a884" fill-opacity="0.8" stroke="#000" stroke-opacity="0.9" stroke-width="1.33"/>
<path d="M431.2 574.7L437.4 587.1L425.0 587.1Z" fill="#2a788e" fill-opacity="0.8" stroke="#000" stroke-opacity="0.9" stroke-width="1.33" stroke-linejoin="miter"/>
<circle cx="451.2" cy="575.4" r="6.49" fill="#414487" fill-opacity="0.8" stroke="#000" stroke-opacity="0.9" stroke-width="1.33"/>
<path d="M524.5 577.2L530.7 589.6L518.3 589.6Z" fill="#414487" fill-opacity="0.8" stroke="#000" stroke-opacity="0.9" stroke-width="1.33" stroke-linejoin="miter"/>
<rect x="539.1" y="574.8" width="13.0" height="13.0" fill="#2a788e" fill-opacity="0.8" stroke="#000" stroke-opacity="0.9" stroke-width="1.33"/>
<rect x="632.5" y="558.0" width="13.0" height="13.0" fill="#414487" fill-opacity="0.8" stroke="#000" stroke-opacity="0.9" stroke-width="1.33"/>
<circle cx="171.1" cy="660.9" r="4.54" fill="#7ad151" fill-opacity="0.8" stroke="#000" stroke-opacity="0.9" stroke-width="1.33"/>
<path d="M216.3 617.7L220.6 626.2L212.1 626.2Z" fill="#7ad151" fill-opacity="0.8" stroke="#000" stroke-opacity="0.9" stroke-width="1.33" stroke-linejoin="miter"/>
<circle cx="241.3" cy="618.3" r="4.54" fill="#22a884" fill-opacity="0.8" stroke="#000" stroke-opacity="0.9" stroke-width="1.33"/>
<rect x="297.4" y="592.4" width="9.1" height="9.1" fill="#7ad151" fill-opacity="0.8" stroke="#000" stroke-opacity="0.9" stroke-width="1.33"/>
<path d="M299.8 585.5L304.1 594.0L295.6 594.0Z" fill="#22a884" fill-opacity="0.8" stroke="#000" stroke-opacity="0.9" stroke-width="1.33" stroke-linejoin="miter"/>
<circle cx="361.8" cy="593.7" r="4.54" fill="#2a788e" fill-opacity="0.8" stroke="#000" stroke-opacity="0.9" stroke-width="1.33"/>
<rect x="395.9" y="528.9" width="9.1" height="9.1" fill="#22a884" fill-opacity="0.8" stroke="#000" stroke-opacity="0.9" stroke-width="1.33"/>
<path d="M431.2 578.8L435.4 587.3L426.9 587.3Z" fill="#2a788e" fill-opacity="0.8" stroke="#000" stroke-opacity="0.9" stroke-width="1.33" stroke-linejoin="miter"/>
<circle cx="451.1" cy="580.7" r="4.54" fill="#414487" fill-opacity="0.8" stroke="#000" stroke-opacity="0.9" stroke-width="1.33"/>
<path d="M524.5 578.2L528.8 586.7L520.2 586.7Z" fill="#414487" fill-opacity="0.8" stroke="#000" stroke-opacity="0.9" stroke-width="1.33" stroke-linejoin="miter"/>
<rect x="541.2" y="577.6" width="9.1" height="9.1" fill="#2a788e" fill-opacity="0.8" stroke="#000" stroke-opacity="0.9" stroke-width="1.33"/>
<circle cx="171.1" cy="607.6" r="3.33" fill="#7ad151" fill-opacity="0.8" stroke="#000" stroke-opacity="0.9" stroke-width="1.33"/>
<path d="M216.4 586.9L219.5 593.0L213.3 593.0Z" fill="#7ad151" fill-opacity="0.8" stroke="#000" stroke-opacity="0.9" stroke-width="1.33" stroke-linejoin="miter"/>
<circle cx="241.4" cy="644.3" r="3.33" fill="#22a884" fill-opacity="0.8" stroke="#000" stroke-opacity="0.9" stroke-width="1.33"/>
<rect x="302.0" y="571.9" width="6.7" height="6.7" fill="#7ad151" fill-opacity="0.8" stroke="#000" stroke-opacity="0.9" stroke-width="1.33"/>
<path d="M299.9 578.4L302.9 584.5L296.8 584.5Z" fill="#22a884" fill-opacity="0.8" stroke="#000" stroke-opacity="0.9" stroke-width="1.33" stroke-linejoin="miter"/>
<circle cx="361.9" cy="538.1" r="3.33" fill="#2a788e" fill-opacity="0.8" stroke="#000" stroke-opacity="0.9" stroke-width="1.33"/>
<rect x="397.2" y="571.0" width="6.7" height="6.7" fill="#22a884" fill-opacity="0.8" stroke="#000" stroke-opacity="0.9" stroke-width="1.33"/>
<path d="M431.3 590.1L434.4 596.2L428.2 596.2Z" fill="#2a788e" fill-opacity="0.8" stroke="#000" stroke-opacity="0.9" stroke-width="1.33" stroke-linejoin="miter"/>
<circle cx="451.2" cy="575.0" r="3.33" fill="#414487" fill-opacity="0.8" stroke="#000" stroke-opacity="0.9" stroke-width="1.33"/>
<path d="M524.5 563.2L527.5 569.3L521.5 569.3Z" fill="#414487" fill-opacity="0.8" stroke="#000" stroke-opacity="0.9" stroke-width="1.33" stroke-linejoin="miter"/>
<rect x="539.1" y="566.4" width="6.7" height="6.7" fill="#2a788e" fill-opacity="0.8" stroke="#000" stroke-opacity="0.9" stroke-width="1.33"/>
<polygon points="194.2,569.4 196.8,577.4 205.2,577.4 198.4,582.4 201.0,590.4 194.2,585.4 187.4,590.4 190.0,582.4 183.2,577.4 191.6,577.4" fill="#ff7f0e" fill-opacity="0.8" stroke="#000" stroke-opacity="0.9" stroke-width="1.33" stroke-linejoin="bevel"/>
</g>
<rect x="104.5" y="427.1" width="615.1" height="307.9" fill="none" stroke="#000" stroke-width="1.33"/>
<line x1="98.7" x2="104.5" y1="735.00" y2="735.00" stroke="#000" stroke-width="1.33"/>
<line x1="54.3" x2="66.5" y1="737.1" y2="737.1" stroke="#000" stroke-width="1.1"/>
<line x1="98.7" x2="104.5" y1="704.21" y2="704.21" stroke="#000" stroke-width="1.33"/>
<line x1="54.3" x2="66.5" y1="706.3" y2="706.3" stroke="#000" stroke-width="1.1"/>
<line x1="98.7" x2="104.5" y1="673.42" y2="673.42" stroke="#000" stroke-width="1.33"/>
<line x1="54.3" x2="66.5" y1="675.5" y2="675.5" stroke="#000" stroke-width="1.1"/>
<line x1="98.7" x2="104.5" y1="642.63" y2="642.63" stroke="#000" stroke-width="1.33"/>
<line x1="54.3" x2="66.5" y1="644.7" y2="644.7" stroke="#000" stroke-width="1.1"/>
<line x1="98.7" x2="104.5" y1="611.84" y2="611.84" stroke="#000" stroke-width="1.33"/>
<line x1="54.3" x2="66.5" y1="613.9" y2="613.9" stroke="#000" stroke-width="1.1"/>
<line x1="98.7" x2="104.5" y1="581.05" y2="581.05" stroke="#000" stroke-width="1.33"/>
<line x1="98.7" x2="104.5" y1="550.26" y2="550.26" stroke="#000" stroke-width="1.33"/>
<line x1="98.7" x2="104.5" y1="519.47" y2="519.47" stroke="#000" stroke-width="1.33"/>
<line x1="98.7" x2="104.5" y1="488.68" y2="488.68" stroke="#000" stroke-width="1.33"/>
<line x1="98.7" x2="104.5" y1="457.89" y2="457.89" stroke="#000" stroke-width="1.33"/>
<line x1="98.7" x2="104.5" y1="427.10" y2="427.10" stroke="#000" stroke-width="1.33"/>
<line x1="101.1" x2="104.5" y1="719.61" y2="719.61" stroke="#000" stroke-width="1"/>
<line x1="101.1" x2="104.5" y1="688.82" y2="688.82" stroke="#000" stroke-width="1"/>
<line x1="101.1" x2="104.5" y1="658.03" y2="658.03" stroke="#000" stroke-width="1"/>
<line x1="101.1" x2="104.5" y1="627.24" y2="627.24" stroke="#000" stroke-width="1"/>
<line x1="101.1" x2="104.5" y1="596.45" y2="596.45" stroke="#000" stroke-width="1"/>
<line x1="101.1" x2="104.5" y1="565.65" y2="565.65" stroke="#000" stroke-width="1"/>
<line x1="101.1" x2="104.5" y1="534.87" y2="534.87" stroke="#000" stroke-width="1"/>
<line x1="101.1" x2="104.5" y1="504.08" y2="504.08" stroke="#000" stroke-width="1"/>
<line x1="101.1" x2="104.5" y1="473.29" y2="473.29" stroke="#000" stroke-width="1"/>
<line x1="101.1" x2="104.5" y1="442.50" y2="442.50" stroke="#000" stroke-width="1"/>
<line x1="146.63" x2="146.63" y1="735.0" y2="740.6" stroke="#000" stroke-width="1.1"/>
<line x1="206.02" x2="206.02" y1="735.0" y2="740.6" stroke="#000" stroke-width="1.1"/>
<line x1="248.15" x2="248.15" y1="735.0" y2="740.6" stroke="#000" stroke-width="1.1"/>
<line x1="280.84" x2="280.84" y1="735.0" y2="740.6" stroke="#000" stroke-width="1.1"/>
<line x1="307.54" x2="307.54" y1="735.0" y2="740.6" stroke="#000" stroke-width="1.1"/>
<line x1="330.12" x2="330.12" y1="735.0" y2="740.6" stroke="#000" stroke-width="1.1"/>
<line x1="349.68" x2="349.68" y1="735.0" y2="740.6" stroke="#000" stroke-width="1.1"/>
<line x1="366.93" x2="366.93" y1="735.0" y2="740.6" stroke="#000" stroke-width="1.1"/>
<line x1="382.36" x2="382.36" y1="735.0" y2="746.0" stroke="#000" stroke-width="1.33"/>
<line x1="483.88" x2="483.88" y1="735.0" y2="740.6" stroke="#000" stroke-width="1.1"/>
<line x1="543.26" x2="543.26" y1="735.0" y2="740.6" stroke="#000" stroke-width="1.1"/>
<line x1="585.40" x2="585.40" y1="735.0" y2="740.6" stroke="#000" stroke-width="1.1"/>
<line x1="618.08" x2="618.08" y1="735.0" y2="740.6" stroke="#000" stroke-width="1.1"/>
<line x1="644.78" x2="644.78" y1="735.0" y2="740.6" stroke="#000" stroke-width="1.1"/>
<line x1="667.36" x2="667.36" y1="735.0" y2="740.6" stroke="#000" stroke-width="1.1"/>
<line x1="686.92" x2="686.92" y1="735.0" y2="740.6" stroke="#000" stroke-width="1.1"/>
<line x1="704.17" x2="704.17" y1="735.0" y2="740.6" stroke="#000" stroke-width="1.1"/>
<line x1="719.6" x2="719.6" y1="735.0" y2="746.0" stroke="#000" stroke-width="1.33"/>
<rect x="683.6" y="437.1" width="24.3" height="25.5" rx="4.2" fill="#fff" stroke="#000" stroke-width="1.4"/>
<rect x="104.5" y="928.0" width="615.1" height="82.1" fill="#e6e6e6"/>
<line x1="104.5" x2="719.6" y1="948.5" y2="948.5" stroke="#000" stroke-width="1.5" stroke-dasharray="1.5 2.255" stroke-dashoffset="0.9"/>
<line x1="104.5" x2="719.6" y1="989.6" y2="989.6" stroke="#000" stroke-width="1.5" stroke-dasharray="1.5 2.255" stroke-dashoffset="0.9"/>
<line x1="104.5" x2="719.6" y1="969.1" y2="969.1" stroke="#000" stroke-width="1.5"/>
<g>
<circle cx="155.2" cy="1003.7" r="16.23" fill="#7ad151" fill-opacity="0.8" stroke="#000" stroke-opacity="0.9" stroke-width="1.33"/>
<path d="M204.3 944.0L220.2 975.9L188.4 975.9Z" fill="#7ad151" fill-opacity="0.8" stroke="#000" stroke-opacity="0.9" stroke-width="1.33" stroke-linejoin="miter"/>
<circle cx="231.5" cy="994.3" r="16.23" fill="#22a884" fill-opacity="0.8" stroke="#000" stroke-opacity="0.9" stroke-width="1.33"/>
<rect x="279.4" y="1003.2" width="32.5" height="32.5" fill="#7ad151" fill-opacity="0.8" stroke="#000" stroke-opacity="0.9" stroke-width="1.33"/>
<path d="M293.6 911.9L309.6 943.8L277.7 943.8Z" fill="#22a884" fill-opacity="0.8" stroke="#000" stroke-opacity="0.9" stroke-width="1.33" stroke-linejoin="miter"/>
<circle cx="357.7" cy="1013.2" r="16.23" fill="#2a788e" fill-opacity="0.8" stroke="#000" stroke-opacity="0.9" stroke-width="1.33"/>
<rect x="384.9" y="921.5" width="32.5" height="32.5" fill="#22a884" fill-opacity="0.8" stroke="#000" stroke-opacity="0.9" stroke-width="1.33"/>
<path d="M428.6 939.6L444.6 971.5L412.7 971.5Z" fill="#2a788e" fill-opacity="0.8" stroke="#000" stroke-opacity="0.9" stroke-width="1.33" stroke-linejoin="miter"/>
<circle cx="449.3" cy="971.1" r="16.23" fill="#414487" fill-opacity="0.8" stroke="#000" stroke-opacity="0.9" stroke-width="1.33"/>
<path d="M523.3 937.9L539.2 969.8L507.3 969.8Z" fill="#414487" fill-opacity="0.8" stroke="#000" stroke-opacity="0.9" stroke-width="1.33" stroke-linejoin="miter"/>
<rect x="525.2" y="971.2" width="32.5" height="32.5" fill="#2a788e" fill-opacity="0.8" stroke="#000" stroke-opacity="0.9" stroke-width="1.33"/>
<rect x="621.3" y="952.2" width="32.5" height="32.5" fill="#414487" fill-opacity="0.8" stroke="#000" stroke-opacity="0.9" stroke-width="1.33"/>
<circle cx="165.0" cy="1003.7" r="14.34" fill="#7ad151" fill-opacity="0.8" stroke="#000" stroke-opacity="0.9" stroke-width="1.33"/>
<path d="M211.8 908.4L225.9 936.5L197.8 936.5Z" fill="#7ad151" fill-opacity="0.8" stroke="#000" stroke-opacity="0.9" stroke-width="1.33" stroke-linejoin="miter"/>
<circle cx="237.9" cy="951.7" r="14.34" fill="#22a884" fill-opacity="0.8" stroke="#000" stroke-opacity="0.9" stroke-width="1.33"/>
<rect x="285.5" y="987.6" width="28.7" height="28.7" fill="#7ad151" fill-opacity="0.8" stroke="#000" stroke-opacity="0.9" stroke-width="1.33"/>
<path d="M297.1 958.6L311.2 986.7L283.1 986.7Z" fill="#22a884" fill-opacity="0.8" stroke="#000" stroke-opacity="0.9" stroke-width="1.33" stroke-linejoin="miter"/>
<circle cx="360.1" cy="986.6" r="14.34" fill="#2a788e" fill-opacity="0.8" stroke="#000" stroke-opacity="0.9" stroke-width="1.33"/>
<rect x="385.1" y="984.3" width="28.7" height="28.7" fill="#22a884" fill-opacity="0.8" stroke="#000" stroke-opacity="0.9" stroke-width="1.33"/>
<path d="M430.5 976.2L444.6 1004.3L416.4 1004.3Z" fill="#2a788e" fill-opacity="0.8" stroke="#000" stroke-opacity="0.9" stroke-width="1.33" stroke-linejoin="miter"/>
<circle cx="450.5" cy="958.4" r="14.34" fill="#414487" fill-opacity="0.8" stroke="#000" stroke-opacity="0.9" stroke-width="1.33"/>
<path d="M523.6 939.3L537.6 967.4L509.6 967.4Z" fill="#414487" fill-opacity="0.8" stroke="#000" stroke-opacity="0.9" stroke-width="1.33" stroke-linejoin="miter"/>
<rect x="527.7" y="985.6" width="28.7" height="28.7" fill="#2a788e" fill-opacity="0.8" stroke="#000" stroke-opacity="0.9" stroke-width="1.33"/>
<rect x="627.8" y="940.9" width="28.7" height="28.7" fill="#414487" fill-opacity="0.8" stroke="#000" stroke-opacity="0.9" stroke-width="1.33"/>
<circle cx="166.9" cy="922.1" r="12.34" fill="#7ad151" fill-opacity="0.8" stroke="#000" stroke-opacity="0.9" stroke-width="1.33"/>
<path d="M213.0 925.8L225.1 949.9L200.9 949.9Z" fill="#7ad151" fill-opacity="0.8" stroke="#000" stroke-opacity="0.9" stroke-width="1.33" stroke-linejoin="miter"/>
<circle cx="238.7" cy="885.3" r="12.34" fill="#22a884" fill-opacity="0.8" stroke="#000" stroke-opacity="0.9" stroke-width="1.33"/>
<rect x="290.7" y="958.5" width="24.7" height="24.7" fill="#7ad151" fill-opacity="0.8" stroke="#000" stroke-opacity="0.9" stroke-width="1.33"/>
<path d="M298.2 1000.3L310.2 1024.4L286.1 1024.4Z" fill="#22a884" fill-opacity="0.8" stroke="#000" stroke-opacity="0.9" stroke-width="1.33" stroke-linejoin="miter"/>
<circle cx="360.8" cy="931.7" r="12.34" fill="#2a788e" fill-opacity="0.8" stroke="#000" stroke-opacity="0.9" stroke-width="1.33"/>
<rect x="387.7" y="954.5" width="24.7" height="24.7" fill="#22a884" fill-opacity="0.8" stroke="#000" stroke-opacity="0.9" stroke-width="1.33"/>
<path d="M430.8 951.0L442.9 975.1L418.8 975.1Z" fill="#2a788e" fill-opacity="0.8" stroke="#000" stroke-opacity="0.9" stroke-width="1.33" stroke-linejoin="miter"/>
<circle cx="451.0" cy="967.3" r="12.34" fill="#414487" fill-opacity="0.8" stroke="#000" stroke-opacity="0.9" stroke-width="1.33"/>
<path d="M523.9 940.5L535.9 964.6L511.8 964.6Z" fill="#414487" fill-opacity="0.8" stroke="#000" stroke-opacity="0.9" stroke-width="1.33" stroke-linejoin="miter"/>
<rect x="529.8" y="978.0" width="24.7" height="24.7" fill="#2a788e" fill-opacity="0.8" stroke="#000" stroke-opacity="0.9" stroke-width="1.33"/>
<rect x="629.2" y="948.5" width="24.7" height="24.7" fill="#414487" fill-opacity="0.8" stroke="#000" stroke-opacity="0.9" stroke-width="1.33"/>
<circle cx="168.4" cy="939.7" r="10.18" fill="#7ad151" fill-opacity="0.8" stroke="#000" stroke-opacity="0.9" stroke-width="1.33"/>
<path d="M214.1 903.9L224.0 923.7L204.2 923.7Z" fill="#7ad151" fill-opacity="0.8" stroke="#000" stroke-opacity="0.9" stroke-width="1.33" stroke-linejoin="miter"/>
<circle cx="239.6" cy="951.7" r="10.18" fill="#22a884" fill-opacity="0.8" stroke="#000" stroke-opacity="0.9" stroke-width="1.33"/>
<rect x="294.3" y="953.3" width="20.4" height="20.4" fill="#7ad151" fill-opacity="0.8" stroke="#000" stroke-opacity="0.9" stroke-width="1.33"/>
<path d="M299.1 971.3L309.0 991.1L289.2 991.1Z" fill="#22a884" fill-opacity="0.8" stroke="#000" stroke-opacity="0.9" stroke-width="1.33" stroke-linejoin="miter"/>
<circle cx="360.9" cy="952.5" r="10.18" fill="#2a788e" fill-opacity="0.8" stroke="#000" stroke-opacity="0.9" stroke-width="1.33"/>
<rect x="390.1" y="958.2" width="20.4" height="20.4" fill="#22a884" fill-opacity="0.8" stroke="#000" stroke-opacity="0.9" stroke-width="1.33"/>
<path d="M431.2 1001.4L441.1 1021.2L421.3 1021.2Z" fill="#2a788e" fill-opacity="0.8" stroke="#000" stroke-opacity="0.9" stroke-width="1.33" stroke-linejoin="miter"/>
<circle cx="451.1" cy="990.4" r="10.18" fill="#414487" fill-opacity="0.8" stroke="#000" stroke-opacity="0.9" stroke-width="1.33"/>
<path d="M524.3 945.0L534.2 964.8L514.4 964.8Z" fill="#414487" fill-opacity="0.8" stroke="#000" stroke-opacity="0.9" stroke-width="1.33" stroke-linejoin="miter"/>
<rect x="535.3" y="954.1" width="20.4" height="20.4" fill="#2a788e" fill-opacity="0.8" stroke="#000" stroke-opacity="0.9" stroke-width="1.33"/>
<circle cx="169.7" cy="976.2" r="9.23" fill="#7ad151" fill-opacity="0.8" stroke="#000" stroke-opacity="0.9" stroke-width="1.33"/>
<path d="M215.4 966.9L224.3 984.8L206.5 984.8Z" fill="#7ad151" fill-opacity="0.8" stroke="#000" stroke-opacity="0.9" stroke-width="1.33" stroke-linejoin="miter"/>
<circle cx="240.6" cy="978.4" r="9.23" fill="#22a884" fill-opacity="0.8" stroke="#000" stroke-opacity="0.9" stroke-width="1.33"/>
<rect x="292.2" y="981.1" width="18.5" height="18.5" fill="#7ad151" fill-opacity="0.8" stroke="#000" stroke-opacity="0.9" stroke-width="1.33"/>
<path d="M299.4 955.1L308.3 973.0L290.4 973.0Z" fill="#22a884" fill-opacity="0.8" stroke="#000" stroke-opacity="0.9" stroke-width="1.33" stroke-linejoin="miter"/>
<circle cx="361.3" cy="999.6" r="9.23" fill="#2a788e" fill-opacity="0.8" stroke="#000" stroke-opacity="0.9" stroke-width="1.33"/>
<rect x="390.6" y="997.2" width="18.5" height="18.5" fill="#22a884" fill-opacity="0.8" stroke="#000" stroke-opacity="0.9" stroke-width="1.33"/>
<path d="M431.2 947.4L440.1 965.3L422.2 965.3Z" fill="#2a788e" fill-opacity="0.8" stroke="#000" stroke-opacity="0.9" stroke-width="1.33" stroke-linejoin="miter"/>
<circle cx="451.2" cy="930.7" r="9.23" fill="#414487" fill-opacity="0.8" stroke="#000" stroke-opacity="0.9" stroke-width="1.33"/>
<path d="M524.5 982.8L533.5 1000.7L515.5 1000.7Z" fill="#414487" fill-opacity="0.8" stroke="#000" stroke-opacity="0.9" stroke-width="1.33" stroke-linejoin="miter"/>
<rect x="533.2" y="988.2" width="18.5" height="18.5" fill="#2a788e" fill-opacity="0.8" stroke="#000" stroke-opacity="0.9" stroke-width="1.33"/>
<rect x="628.8" y="968.7" width="18.5" height="18.5" fill="#414487" fill-opacity="0.8" stroke="#000" stroke-opacity="0.9" stroke-width="1.33"/>
<circle cx="170.8" cy="961.8" r="7.93" fill="#7ad151" fill-opacity="0.8" stroke="#000" stroke-opacity="0.9" stroke-width="1.33"/>
<path d="M215.9 932.8L223.6 948.1L208.2 948.1Z" fill="#7ad151" fill-opacity="0.8" stroke="#000" stroke-opacity="0.9" stroke-width="1.33" stroke-linejoin="miter"/>
<circle cx="241.2" cy="1016.7" r="7.93" fill="#22a884" fill-opacity="0.8" stroke="#000" stroke-opacity="0.9" stroke-width="1.33"/>
<rect x="293.8" y="974.5" width="15.9" height="15.9" fill="#7ad151" fill-opacity="0.8" stroke="#000" stroke-opacity="0.9" stroke-width="1.33"/>
<path d="M299.6 888.8L307.2 904.1L292.0 904.1Z" fill="#22a884" fill-opacity="0.8" stroke="#000" stroke-opacity="0.9" stroke-width="1.33" stroke-linejoin="miter"/>
<circle cx="361.7" cy="962.8" r="7.93" fill="#2a788e" fill-opacity="0.8" stroke="#000" stroke-opacity="0.9" stroke-width="1.33"/>
<rect x="392.6" y="920.9" width="15.9" height="15.9" fill="#22a884" fill-opacity="0.8" stroke="#000" stroke-opacity="0.9" stroke-width="1.33"/>
<path d="M431.2 982.9L438.8 998.2L423.6 998.2Z" fill="#2a788e" fill-opacity="0.8" stroke="#000" stroke-opacity="0.9" stroke-width="1.33" stroke-linejoin="miter"/>
<circle cx="451.1" cy="934.8" r="7.93" fill="#414487" fill-opacity="0.8" stroke="#000" stroke-opacity="0.9" stroke-width="1.33"/>
<path d="M524.4 957.6L532.0 972.9L516.8 972.9Z" fill="#414487" fill-opacity="0.8" stroke="#000" stroke-opacity="0.9" stroke-width="1.33" stroke-linejoin="miter"/>
<rect x="537.6" y="951.3" width="15.9" height="15.9" fill="#2a788e" fill-opacity="0.8" stroke="#000" stroke-opacity="0.9" stroke-width="1.33"/>
<rect x="633.6" y="952.5" width="15.9" height="15.9" fill="#414487" fill-opacity="0.8" stroke="#000" stroke-opacity="0.9" stroke-width="1.33"/>
<circle cx="171.1" cy="985.6" r="6.49" fill="#7ad151" fill-opacity="0.8" stroke="#000" stroke-opacity="0.9" stroke-width="1.33"/>
<path d="M216.0 974.1L222.2 986.5L209.8 986.5Z" fill="#7ad151" fill-opacity="0.8" stroke="#000" stroke-opacity="0.9" stroke-width="1.33" stroke-linejoin="miter"/>
<circle cx="241.1" cy="976.2" r="6.49" fill="#22a884" fill-opacity="0.8" stroke="#000" stroke-opacity="0.9" stroke-width="1.33"/>
<rect x="295.6" y="1006.2" width="13.0" height="13.0" fill="#7ad151" fill-opacity="0.8" stroke="#000" stroke-opacity="0.9" stroke-width="1.33"/>
<path d="M300.1 894.7L306.3 907.1L293.9 907.1Z" fill="#22a884" fill-opacity="0.8" stroke="#000" stroke-opacity="0.9" stroke-width="1.33" stroke-linejoin="miter"/>
<circle cx="361.8" cy="930.1" r="6.49" fill="#2a788e" fill-opacity="0.8" stroke="#000" stroke-opacity="0.9" stroke-width="1.33"/>
<rect x="393.4" y="974.2" width="13.0" height="13.0" fill="#22a884" fill-opacity="0.8" stroke="#000" stroke-opacity="0.9" stroke-width="1.33"/>
<path d="M431.2 976.4L437.4 988.8L425.0 988.8Z" fill="#2a788e" fill-opacity="0.8" stroke="#000" stroke-opacity="0.9" stroke-width="1.33" stroke-linejoin="miter"/>
<circle cx="451.2" cy="985.1" r="6.49" fill="#414487" fill-opacity="0.8" stroke="#000" stroke-opacity="0.9" stroke-width="1.33"/>
<path d="M524.5 983.5L530.7 995.9L518.3 995.9Z" fill="#414487" fill-opacity="0.8" stroke="#000" stroke-opacity="0.9" stroke-width="1.33" stroke-linejoin="miter"/>
<rect x="539.1" y="952.9" width="13.0" height="13.0" fill="#2a788e" fill-opacity="0.8" stroke="#000" stroke-opacity="0.9" stroke-width="1.33"/>
<rect x="632.5" y="980.6" width="13.0" height="13.0" fill="#414487" fill-opacity="0.8" stroke="#000" stroke-opacity="0.9" stroke-width="1.33"/>
<circle cx="171.1" cy="900.0" r="4.54" fill="#7ad151" fill-opacity="0.8" stroke="#000" stroke-opacity="0.9" stroke-width="1.33"/>
<path d="M216.3 983.5L220.6 992.0L212.1 992.0Z" fill="#7ad151" fill-opacity="0.8" stroke="#000" stroke-opacity="0.9" stroke-width="1.33" stroke-linejoin="miter"/>
<circle cx="241.3" cy="1001.1" r="4.54" fill="#22a884" fill-opacity="0.8" stroke="#000" stroke-opacity="0.9" stroke-width="1.33"/>
<rect x="297.4" y="893.3" width="9.1" height="9.1" fill="#7ad151" fill-opacity="0.8" stroke="#000" stroke-opacity="0.9" stroke-width="1.33"/>
<path d="M299.8 943.2L304.1 951.7L295.6 951.7Z" fill="#22a884" fill-opacity="0.8" stroke="#000" stroke-opacity="0.9" stroke-width="1.33" stroke-linejoin="miter"/>
<circle cx="361.8" cy="956.9" r="4.54" fill="#2a788e" fill-opacity="0.8" stroke="#000" stroke-opacity="0.9" stroke-width="1.33"/>
<rect x="395.9" y="987.6" width="9.1" height="9.1" fill="#22a884" fill-opacity="0.8" stroke="#000" stroke-opacity="0.9" stroke-width="1.33"/>
<path d="M431.2 948.4L435.4 956.9L426.9 956.9Z" fill="#2a788e" fill-opacity="0.8" stroke="#000" stroke-opacity="0.9" stroke-width="1.33" stroke-linejoin="miter"/>
<circle cx="451.1" cy="995.9" r="4.54" fill="#414487" fill-opacity="0.8" stroke="#000" stroke-opacity="0.9" stroke-width="1.33"/>
<path d="M524.5 948.8L528.8 957.3L520.2 957.3Z" fill="#414487" fill-opacity="0.8" stroke="#000" stroke-opacity="0.9" stroke-width="1.33" stroke-linejoin="miter"/>
<rect x="541.2" y="955.1" width="9.1" height="9.1" fill="#2a788e" fill-opacity="0.8" stroke="#000" stroke-opacity="0.9" stroke-width="1.33"/>
<circle cx="171.1" cy="961.5" r="3.33" fill="#7ad151" fill-opacity="0.8" stroke="#000" stroke-opacity="0.9" stroke-width="1.33"/>
<path d="M216.4 952.3L219.5 958.4L213.3 958.4Z" fill="#7ad151" fill-opacity="0.8" stroke="#000" stroke-opacity="0.9" stroke-width="1.33" stroke-linejoin="miter"/>
<circle cx="241.4" cy="951.3" r="3.33" fill="#22a884" fill-opacity="0.8" stroke="#000" stroke-opacity="0.9" stroke-width="1.33"/>
<rect x="302.0" y="950.0" width="6.7" height="6.7" fill="#7ad151" fill-opacity="0.8" stroke="#000" stroke-opacity="0.9" stroke-width="1.33"/>
<path d="M299.9 1015.5L302.9 1021.6L296.8 1021.6Z" fill="#22a884" fill-opacity="0.8" stroke="#000" stroke-opacity="0.9" stroke-width="1.33" stroke-linejoin="miter"/>
<circle cx="361.9" cy="983.4" r="3.33" fill="#2a788e" fill-opacity="0.8" stroke="#000" stroke-opacity="0.9" stroke-width="1.33"/>
<rect x="397.2" y="969.9" width="6.7" height="6.7" fill="#22a884" fill-opacity="0.8" stroke="#000" stroke-opacity="0.9" stroke-width="1.33"/>
<path d="M431.3 933.5L434.4 939.6L428.2 939.6Z" fill="#2a788e" fill-opacity="0.8" stroke="#000" stroke-opacity="0.9" stroke-width="1.33" stroke-linejoin="miter"/>
<circle cx="451.2" cy="964.7" r="3.33" fill="#414487" fill-opacity="0.8" stroke="#000" stroke-opacity="0.9" stroke-width="1.33"/>
<path d="M524.5 977.8L527.5 983.9L521.5 983.9Z" fill="#414487" fill-opacity="0.8" stroke="#000" stroke-opacity="0.9" stroke-width="1.33" stroke-linejoin="miter"/>
<rect x="539.1" y="998.7" width="6.7" height="6.7" fill="#2a788e" fill-opacity="0.8" stroke="#000" stroke-opacity="0.9" stroke-width="1.33"/>
<polygon points="194.2,963.3 196.8,971.3 205.2,971.3 198.4,976.3 201.0,984.3 194.2,979.3 187.4,984.3 190.0,976.3 183.2,971.3 191.6,971.3" fill="#ff7f0e" fill-opacity="0.8" stroke="#000" stroke-opacity="0.9" stroke-width="1.33" stroke-linejoin="bevel"/>
</g>
<rect x="104.5" y="815.2" width="615.1" height="307.7" fill="none" stroke="#000" stroke-width="1.33"/>
<line x1="98.7" x2="104.5" y1="1112.64" y2="1112.64" stroke="#000" stroke-width="1.33"/>
<line x1="44.0" x2="56.2" y1="1114.7" y2="1114.7" stroke="#000" stroke-width="1.1"/>
<line x1="98.7" x2="104.5" y1="1092.13" y2="1092.13" stroke="#000" stroke-width="1.33"/>
<line x1="44.0" x2="56.2" y1="1094.2" y2="1094.2" stroke="#000" stroke-width="1.1"/>
<line x1="98.7" x2="104.5" y1="1071.62" y2="1071.62" stroke="#000" stroke-width="1.33"/>
<line x1="44.0" x2="56.2" y1="1073.7" y2="1073.7" stroke="#000" stroke-width="1.1"/>
<line x1="98.7" x2="104.5" y1="1051.10" y2="1051.10" stroke="#000" stroke-width="1.33"/>
<line x1="44.0" x2="56.2" y1="1053.2" y2="1053.2" stroke="#000" stroke-width="1.1"/>
<line x1="98.7" x2="104.5" y1="1030.59" y2="1030.59" stroke="#000" stroke-width="1.33"/>
<line x1="44.0" x2="56.2" y1="1032.7" y2="1032.7" stroke="#000" stroke-width="1.1"/>
<line x1="98.7" x2="104.5" y1="1010.08" y2="1010.08" stroke="#000" stroke-width="1.33"/>
<line x1="44.0" x2="56.2" y1="1012.2" y2="1012.2" stroke="#000" stroke-width="1.1"/>
<line x1="98.7" x2="104.5" y1="989.56" y2="989.56" stroke="#000" stroke-width="1.33"/>
<line x1="44.0" x2="56.2" y1="991.7" y2="991.7" stroke="#000" stroke-width="1.1"/>
<line x1="98.7" x2="104.5" y1="969.05" y2="969.05" stroke="#000" stroke-width="1.33"/>
<line x1="98.7" x2="104.5" y1="948.54" y2="948.54" stroke="#000" stroke-width="1.33"/>
<line x1="98.7" x2="104.5" y1="928.02" y2="928.02" stroke="#000" stroke-width="1.33"/>
<line x1="98.7" x2="104.5" y1="907.51" y2="907.51" stroke="#000" stroke-width="1.33"/>
<line x1="98.7" x2="104.5" y1="887.00" y2="887.00" stroke="#000" stroke-width="1.33"/>
<line x1="98.7" x2="104.5" y1="866.48" y2="866.48" stroke="#000" stroke-width="1.33"/>
<line x1="98.7" x2="104.5" y1="845.97" y2="845.97" stroke="#000" stroke-width="1.33"/>
<line x1="98.7" x2="104.5" y1="825.46" y2="825.46" stroke="#000" stroke-width="1.33"/>
<line x1="101.1" x2="104.5" y1="1122.90" y2="1122.90" stroke="#000" stroke-width="1"/>
<line x1="101.1" x2="104.5" y1="1102.39" y2="1102.39" stroke="#000" stroke-width="1"/>
<line x1="101.1" x2="104.5" y1="1081.87" y2="1081.87" stroke="#000" stroke-width="1"/>
<line x1="101.1" x2="104.5" y1="1061.36" y2="1061.36" stroke="#000" stroke-width="1"/>
<line x1="101.1" x2="104.5" y1="1040.85" y2="1040.85" stroke="#000" stroke-width="1"/>
<line x1="101.1" x2="104.5" y1="1020.33" y2="1020.33" stroke="#000" stroke-width="1"/>
<line x1="101.1" x2="104.5" y1="999.82" y2="999.82" stroke="#000" stroke-width="1"/>
<line x1="101.1" x2="104.5" y1="979.31" y2="979.31" stroke="#000" stroke-width="1"/>
<line x1="101.1" x2="104.5" y1="958.79" y2="958.79" stroke="#000" stroke-width="1"/>
<line x1="101.1" x2="104.5" y1="938.28" y2="938.28" stroke="#000" stroke-width="1"/>
<line x1="101.1" x2="104.5" y1="917.77" y2="917.77" stroke="#000" stroke-width="1"/>
<line x1="101.1" x2="104.5" y1="897.25" y2="897.25" stroke="#000" stroke-width="1"/>
<line x1="101.1" x2="104.5" y1="876.74" y2="876.74" stroke="#000" stroke-width="1"/>
<line x1="101.1" x2="104.5" y1="856.23" y2="856.23" stroke="#000" stroke-width="1"/>
<line x1="101.1" x2="104.5" y1="835.71" y2="835.71" stroke="#000" stroke-width="1"/>
<line x1="101.1" x2="104.5" y1="815.20" y2="815.20" stroke="#000" stroke-width="1"/>
<line x1="146.63" x2="146.63" y1="1122.9" y2="1128.5" stroke="#000" stroke-width="1.1"/>
<line x1="206.02" x2="206.02" y1="1122.9" y2="1128.5" stroke="#000" stroke-width="1.1"/>
<line x1="248.15" x2="248.15" y1="1122.9" y2="1128.5" stroke="#000" stroke-width="1.1"/>
<line x1="280.84" x2="280.84" y1="1122.9" y2="1128.5" stroke="#000" stroke-width="1.1"/>
<line x1="307.54" x2="307.54" y1="1122.9" y2="1128.5" stroke="#000" stroke-width="1.1"/>
<line x1="330.12" x2="330.12" y1="1122.9" y2="1128.5" stroke="#000" stroke-width="1.1"/>
<line x1="349.68" x2="349.68" y1="1122.9" y2="1128.5" stroke="#000" stroke-width="1.1"/>
<line x1="366.93" x2="366.93" y1="1122.9" y2="1128.5" stroke="#000" stroke-width="1.1"/>
<line x1="382.36" x2="382.36" y1="1122.9" y2="1133.9" stroke="#000" stroke-width="1.33"/>
<line x1="483.88" x2="483.88" y1="1122.9" y2="1128.5" stroke="#000" stroke-width="1.1"/>
<line x1="543.26" x2="543.26" y1="1122.9" y2="1128.5" stroke="#000" stroke-width="1.1"/>
<line x1="585.40" x2="585.40" y1="1122.9" y2="1128.5" stroke="#000" stroke-width="1.1"/>
<line x1="618.08" x2="618.08" y1="1122.9" y2="1128.5" stroke="#000" stroke-width="1.1"/>
<line x1="644.78" x2="644.78" y1="1122.9" y2="1128.5" stroke="#000" stroke-width="1.1"/>
<line x1="667.36" x2="667.36" y1="1122.9" y2="1128.5" stroke="#000" stroke-width="1.1"/>
<line x1="686.92" x2="686.92" y1="1122.9" y2="1128.5" stroke="#000" stroke-width="1.1"/>
<line x1="704.17" x2="704.17" y1="1122.9" y2="1128.5" stroke="#000" stroke-width="1.1"/>
<line x1="719.6" x2="719.6" y1="1122.9" y2="1133.9" stroke="#000" stroke-width="1.33"/>
<rect x="683.6" y="825.2" width="23.4" height="25.5" rx="4.2" fill="#fff" stroke="#000" stroke-width="1.4"/>
<rect x="104.5" y="1322.8" width="615.1" height="68.4" fill="#e6e6e6"/>
<line x1="104.5" x2="719.6" y1="1339.9" y2="1339.9" stroke="#000" stroke-width="1.5" stroke-dasharray="1.5 2.255" stroke-dashoffset="0.9"/>
<line x1="104.5" x2="719.6" y1="1374.1" y2="1374.1" stroke="#000" stroke-width="1.5" stroke-dasharray="1.5 2.255" stroke-dashoffset="0.9"/>
<line x1="104.5" x2="719.6" y1="1357.0" y2="1357.0" stroke="#000" stroke-width="1.5"/>
<g>
<circle cx="155.2" cy="1339.5" r="16.23" fill="#7ad151" fill-opacity="0.8" stroke="#000" stroke-opacity="0.9" stroke-width="1.33"/>
<path d="M204.3 1315.0L220.2 1346.9L188.4 1346.9Z" fill="#7ad151" fill-opacity="0.8" stroke="#000" stroke-opacity="0.9" stroke-width="1.33" stroke-linejoin="miter"/>
<circle cx="231.5" cy="1395.1" r="16.23" fill="#22a884" fill-opacity="0.8" stroke="#000" stroke-opacity="0.9" stroke-width="1.33"/>
<rect x="279.4" y="1388.0" width="32.5" height="32.5" fill="#7ad151" fill-opacity="0.8" stroke="#000" stroke-opacity="0.9" stroke-width="1.33"/>
<path d="M293.6 1276.5L309.6 1308.4L277.7 1308.4Z" fill="#22a884" fill-opacity="0.8" stroke="#000" stroke-opacity="0.9" stroke-width="1.33" stroke-linejoin="miter"/>
<circle cx="357.7" cy="1410.3" r="16.23" fill="#2a788e" fill-opacity="0.8" stroke="#000" stroke-opacity="0.9" stroke-width="1.33"/>
<rect x="384.9" y="1297.9" width="32.5" height="32.5" fill="#22a884" fill-opacity="0.8" stroke="#000" stroke-opacity="0.9" stroke-width="1.33"/>
<path d="M428.6 1318.9L444.6 1350.8L412.7 1350.8Z" fill="#2a788e" fill-opacity="0.8" stroke="#000" stroke-opacity="0.9" stroke-width="1.33" stroke-linejoin="miter"/>
<circle cx="449.3" cy="1367.0" r="16.23" fill="#414487" fill-opacity="0.8" stroke="#000" stroke-opacity="0.9" stroke-width="1.33"/>
<path d="M523.3 1317.1L539.2 1349.0L507.3 1349.0Z" fill="#414487" fill-opacity="0.8" stroke="#000" stroke-opacity="0.9" stroke-width="1.33" stroke-linejoin="miter"/>
<rect x="525.2" y="1360.6" width="32.5" height="32.5" fill="#2a788e" fill-opacity="0.8" stroke="#000" stroke-opacity="0.9" stroke-width="1.33"/>
<rect x="621.3" y="1338.7" width="32.5" height="32.5" fill="#414487" fill-opacity="0.8" stroke="#000" stroke-opacity="0.9" stroke-width="1.33"/>
<circle cx="165.0" cy="1330.1" r="14.34" fill="#7ad151" fill-opacity="0.8" stroke="#000" stroke-opacity="0.9" stroke-width="1.33"/>
<path d="M211.8 1278.2L225.9 1306.3L197.8 1306.3Z" fill="#7ad151" fill-opacity="0.8" stroke="#000" stroke-opacity="0.9" stroke-width="1.33" stroke-linejoin="miter"/>
<circle cx="237.9" cy="1324.8" r="14.34" fill="#22a884" fill-opacity="0.8" stroke="#000" stroke-opacity="0.9" stroke-width="1.33"/>
<rect x="285.5" y="1343.5" width="28.7" height="28.7" fill="#7ad151" fill-opacity="0.8" stroke="#000" stroke-opacity="0.9" stroke-width="1.33"/>
<path d="M297.1 1330.9L311.2 1359.0L283.1 1359.0Z" fill="#22a884" fill-opacity="0.8" stroke="#000" stroke-opacity="0.9" stroke-width="1.33" stroke-linejoin="miter"/>
<circle cx="360.1" cy="1368.8" r="14.34" fill="#2a788e" fill-opacity="0.8" stroke="#000" stroke-opacity="0.9" stroke-width="1.33"/>
<rect x="385.1" y="1383.6" width="28.7" height="28.7" fill="#22a884" fill-opacity="0.8" stroke="#000" stroke-opacity="0.9" stroke-width="1.33"/>
<path d="M430.5 1375.9L444.6 1404.0L416.4 1404.0Z" fill="#2a788e" fill-opacity="0.8" stroke="#000" stroke-opacity="0.9" stroke-width="1.33" stroke-linejoin="miter"/>
<circle cx="450.5" cy="1335.2" r="14.34" fill="#414487" fill-opacity="0.8" stroke="#000" stroke-opacity="0.9" stroke-width="1.33"/>
<path d="M523.6 1318.3L537.6 1346.4L509.6 1346.4Z" fill="#414487" fill-opacity="0.8" stroke="#000" stroke-opacity="0.9" stroke-width="1.33" stroke-linejoin="miter"/>
<rect x="527.7" y="1385.8" width="28.7" height="28.7" fill="#2a788e" fill-opacity="0.8" stroke="#000" stroke-opacity="0.9" stroke-width="1.33"/>
<rect x="627.8" y="1320.1" width="28.7" height="28.7" fill="#414487" fill-opacity="0.8" stroke="#000" stroke-opacity="0.9" stroke-width="1.33"/>
<circle cx="166.9" cy="1332.0" r="12.34" fill="#7ad151" fill-opacity="0.8" stroke="#000" stroke-opacity="0.9" stroke-width="1.33"/>
<path d="M213.0 1296.8L225.1 1320.9L200.9 1320.9Z" fill="#7ad151" fill-opacity="0.8" stroke="#000" stroke-opacity="0.9" stroke-width="1.33" stroke-linejoin="miter"/>
<circle cx="238.7" cy="1267.3" r="12.34" fill="#22a884" fill-opacity="0.8" stroke="#000" stroke-opacity="0.9" stroke-width="1.33"/>
<rect x="290.7" y="1323.1" width="24.7" height="24.7" fill="#7ad151" fill-opacity="0.8" stroke="#000" stroke-opacity="0.9" stroke-width="1.33"/>
<path d="M298.2 1412.4L310.2 1436.5L286.1 1436.5Z" fill="#22a884" fill-opacity="0.8" stroke="#000" stroke-opacity="0.9" stroke-width="1.33" stroke-linejoin="miter"/>
<circle cx="360.8" cy="1316.8" r="12.34" fill="#2a788e" fill-opacity="0.8" stroke="#000" stroke-opacity="0.9" stroke-width="1.33"/>
<rect x="387.7" y="1344.7" width="24.7" height="24.7" fill="#22a884" fill-opacity="0.8" stroke="#000" stroke-opacity="0.9" stroke-width="1.33"/>
<path d="M430.8 1327.9L442.9 1352.0L418.8 1352.0Z" fill="#2a788e" fill-opacity="0.8" stroke="#000" stroke-opacity="0.9" stroke-width="1.33" stroke-linejoin="miter"/>
<circle cx="451.0" cy="1351.6" r="12.34" fill="#414487" fill-opacity="0.8" stroke="#000" stroke-opacity="0.9" stroke-width="1.33"/>
<path d="M523.9 1320.3L535.9 1344.4L511.8 1344.4Z" fill="#414487" fill-opacity="0.8" stroke="#000" stroke-opacity="0.9" stroke-width="1.33" stroke-linejoin="miter"/>
<rect x="529.8" y="1371.4" width="24.7" height="24.7" fill="#2a788e" fill-opacity="0.8" stroke="#000" stroke-opacity="0.9" stroke-width="1.33"/>
<rect x="629.2" y="1323.5" width="24.7" height="24.7" fill="#414487" fill-opacity="0.8" stroke="#000" stroke-opacity="0.9" stroke-width="1.33"/>
<circle cx="168.4" cy="1333.5" r="10.18" fill="#7ad151" fill-opacity="0.8" stroke="#000" stroke-opacity="0.9" stroke-width="1.33"/>
<path d="M214.1 1285.6L224.0 1305.4L204.2 1305.4Z" fill="#7ad151" fill-opacity="0.8" stroke="#000" stroke-opacity="0.9" stroke-width="1.33" stroke-linejoin="miter"/>
<circle cx="239.6" cy="1351.8" r="10.18" fill="#22a884" fill-opacity="0.8" stroke="#000" stroke-opacity="0.9" stroke-width="1.33"/>
<rect x="294.3" y="1341.6" width="20.4" height="20.4" fill="#7ad151" fill-opacity="0.8" stroke="#000" stroke-opacity="0.9" stroke-width="1.33"/>
<path d="M299.1 1342.3L309.0 1362.1L289.2 1362.1Z" fill="#22a884" fill-opacity="0.8" stroke="#000" stroke-opacity="0.9" stroke-width="1.33" stroke-linejoin="miter"/>
<circle cx="360.9" cy="1333.4" r="10.18" fill="#2a788e" fill-opacity="0.8" stroke="#000" stroke-opacity="0.9" stroke-width="1.33"/>
<rect x="390.1" y="1347.3" width="20.4" height="20.4" fill="#22a884" fill-opacity="0.8" stroke="#000" stroke-opacity="0.9" stroke-width="1.33"/>
<path d="M431.2 1405.8L441.1 1425.6L421.3 1425.6Z" fill="#2a788e" fill-opacity="0.8" stroke="#000" stroke-opacity="0.9" stroke-width="1.33" stroke-linejoin="miter"/>
<circle cx="451.1" cy="1387.2" r="10.18" fill="#414487" fill-opacity="0.8" stroke="#000" stroke-opacity="0.9" stroke-width="1.33"/>
<path d="M524.3 1323.5L534.2 1343.3L514.4 1343.3Z" fill="#414487" fill-opacity="0.8" stroke="#000" stroke-opacity="0.9" stroke-width="1.33" stroke-linejoin="miter"/>
<rect x="535.3" y="1337.9" width="20.4" height="20.4" fill="#2a788e" fill-opacity="0.8" stroke="#000" stroke-opacity="0.9" stroke-width="1.33"/>
<circle cx="169.7" cy="1340.3" r="9.23" fill="#7ad151" fill-opacity="0.8" stroke="#000" stroke-opacity="0.9" stroke-width="1.33"/>
<path d="M215.4 1349.8L224.3 1367.7L206.5 1367.7Z" fill="#7ad151" fill-opacity="0.8" stroke="#000" stroke-opacity="0.9" stroke-width="1.33" stroke-linejoin="miter"/>
<circle cx="240.6" cy="1363.4" r="9.23" fill="#22a884" fill-opacity="0.8" stroke="#000" stroke-opacity="0.9" stroke-width="1.33"/>
<rect x="292.2" y="1389.4" width="18.5" height="18.5" fill="#7ad151" fill-opacity="0.8" stroke="#000" stroke-opacity="0.9" stroke-width="1.33"/>
<path d="M299.4 1349.7L308.3 1367.6L290.4 1367.6Z" fill="#22a884" fill-opacity="0.8" stroke="#000" stroke-opacity="0.9" stroke-width="1.33" stroke-linejoin="miter"/>
<circle cx="361.3" cy="1385.7" r="9.23" fill="#2a788e" fill-opacity="0.8" stroke="#000" stroke-opacity="0.9" stroke-width="1.33"/>
<rect x="390.6" y="1393.4" width="18.5" height="18.5" fill="#22a884" fill-opacity="0.8" stroke="#000" stroke-opacity="0.9" stroke-width="1.33"/>
<path d="M431.2 1321.8L440.1 1339.7L422.2 1339.7Z" fill="#2a788e" fill-opacity="0.8" stroke="#000" stroke-opacity="0.9" stroke-width="1.33" stroke-linejoin="miter"/>
<circle cx="451.2" cy="1310.4" r="9.23" fill="#414487" fill-opacity="0.8" stroke="#000" stroke-opacity="0.9" stroke-width="1.33"/>
<path d="M524.5 1372.4L533.5 1390.3L515.5 1390.3Z" fill="#414487" fill-opacity="0.8" stroke="#000" stroke-opacity="0.9" stroke-width="1.33" stroke-linejoin="miter"/>
<rect x="533.2" y="1387.7" width="18.5" height="18.5" fill="#2a788e" fill-opacity="0.8" stroke="#000" stroke-opacity="0.9" stroke-width="1.33"/>
<rect x="628.8" y="1351.9" width="18.5" height="18.5" fill="#414487" fill-opacity="0.8" stroke="#000" stroke-opacity="0.9" stroke-width="1.33"/>
<circle cx="170.8" cy="1322.2" r="7.93" fill="#7ad151" fill-opacity="0.8" stroke="#000" stroke-opacity="0.9" stroke-width="1.33"/>
<path d="M215.9 1372.4L223.6 1387.7L208.2 1387.7Z" fill="#7ad151" fill-opacity="0.8" stroke="#000" stroke-opacity="0.9" stroke-width="1.33" stroke-linejoin="miter"/>
<circle cx="241.2" cy="1430.5" r="7.93" fill="#22a884" fill-opacity="0.8" stroke="#000" stroke-opacity="0.9" stroke-width="1.33"/>
<rect x="293.8" y="1339.1" width="15.9" height="15.9" fill="#7ad151" fill-opacity="0.8" stroke="#000" stroke-opacity="0.9" stroke-width="1.33"/>
<path d="M299.6 1262.5L307.2 1277.8L292.0 1277.8Z" fill="#22a884" fill-opacity="0.8" stroke="#000" stroke-opacity="0.9" stroke-width="1.33" stroke-linejoin="miter"/>
<circle cx="361.7" cy="1334.1" r="7.93" fill="#2a788e" fill-opacity="0.8" stroke="#000" stroke-opacity="0.9" stroke-width="1.33"/>
<rect x="392.6" y="1293.8" width="15.9" height="15.9" fill="#22a884" fill-opacity="0.8" stroke="#000" stroke-opacity="0.9" stroke-width="1.33"/>
<path d="M431.2 1385.1L438.8 1400.4L423.6 1400.4Z" fill="#2a788e" fill-opacity="0.8" stroke="#000" stroke-opacity="0.9" stroke-width="1.33" stroke-linejoin="miter"/>
<circle cx="451.1" cy="1311.7" r="7.93" fill="#414487" fill-opacity="0.8" stroke="#000" stroke-opacity="0.9" stroke-width="1.33"/>
<path d="M524.4 1337.5L532.0 1352.8L516.8 1352.8Z" fill="#414487" fill-opacity="0.8" stroke="#000" stroke-opacity="0.9" stroke-width="1.33" stroke-linejoin="miter"/>
<rect x="537.6" y="1327.7" width="15.9" height="15.9" fill="#2a788e" fill-opacity="0.8" stroke="#000" stroke-opacity="0.9" stroke-width="1.33"/>
<rect x="633.6" y="1328.0" width="15.9" height="15.9" fill="#414487" fill-opacity="0.8" stroke="#000" stroke-opacity="0.9" stroke-width="1.33"/>
<circle cx="171.1" cy="1357.9" r="6.49" fill="#7ad151" fill-opacity="0.8" stroke="#000" stroke-opacity="0.9" stroke-width="1.33"/>
<path d="M216.0 1298.1L222.2 1310.5L209.8 1310.5Z" fill="#7ad151" fill-opacity="0.8" stroke="#000" stroke-opacity="0.9" stroke-width="1.33" stroke-linejoin="miter"/>
<circle cx="241.1" cy="1348.2" r="6.49" fill="#22a884" fill-opacity="0.8" stroke="#000" stroke-opacity="0.9" stroke-width="1.33"/>
<rect x="295.6" y="1421.5" width="13.0" height="13.0" fill="#7ad151" fill-opacity="0.8" stroke="#000" stroke-opacity="0.9" stroke-width="1.33"/>
<path d="M300.1 1268.4L306.3 1280.8L293.9 1280.8Z" fill="#22a884" fill-opacity="0.8" stroke="#000" stroke-opacity="0.9" stroke-width="1.33" stroke-linejoin="miter"/>
<circle cx="361.8" cy="1302.5" r="6.49" fill="#2a788e" fill-opacity="0.8" stroke="#000" stroke-opacity="0.9" stroke-width="1.33"/>
<rect x="393.4" y="1362.3" width="13.0" height="13.0" fill="#22a884" fill-opacity="0.8" stroke="#000" stroke-opacity="0.9" stroke-width="1.33"/>
<path d="M431.2 1366.0L437.4 1378.4L425.0 1378.4Z" fill="#2a788e" fill-opacity="0.8" stroke="#000" stroke-opacity="0.9" stroke-width="1.33" stroke-linejoin="miter"/>
<circle cx="451.2" cy="1359.5" r="6.49" fill="#414487" fill-opacity="0.8" stroke="#000" stroke-opacity="0.9" stroke-width="1.33"/>
<path d="M524.5 1372.4L530.7 1384.8L518.3 1384.8Z" fill="#414487" fill-opacity="0.8" stroke="#000" stroke-opacity="0.9" stroke-width="1.33" stroke-linejoin="miter"/>
<rect x="539.1" y="1328.8" width="13.0" height="13.0" fill="#2a788e" fill-opacity="0.8" stroke="#000" stroke-opacity="0.9" stroke-width="1.33"/>
<rect x="632.5" y="1370.0" width="13.0" height="13.0" fill="#414487" fill-opacity="0.8" stroke="#000" stroke-opacity="0.9" stroke-width="1.33"/>
<circle cx="171.1" cy="1280.3" r="4.54" fill="#7ad151" fill-opacity="0.8" stroke="#000" stroke-opacity="0.9" stroke-width="1.33"/>
<path d="M216.3 1359.5L220.6 1368.0L212.1 1368.0Z" fill="#7ad151" fill-opacity="0.8" stroke="#000" stroke-opacity="0.9" stroke-width="1.33" stroke-linejoin="miter"/>
<circle cx="241.3" cy="1361.9" r="4.54" fill="#22a884" fill-opacity="0.8" stroke="#000" stroke-opacity="0.9" stroke-width="1.33"/>
<rect x="297.4" y="1259.4" width="9.1" height="9.1" fill="#7ad151" fill-opacity="0.8" stroke="#000" stroke-opacity="0.9" stroke-width="1.33"/>
<path d="M299.8 1309.7L304.1 1318.2L295.6 1318.2Z" fill="#22a884" fill-opacity="0.8" stroke="#000" stroke-opacity="0.9" stroke-width="1.33" stroke-linejoin="miter"/>
<circle cx="361.8" cy="1347.4" r="4.54" fill="#2a788e" fill-opacity="0.8" stroke="#000" stroke-opacity="0.9" stroke-width="1.33"/>
<rect x="395.9" y="1385.2" width="9.1" height="9.1" fill="#22a884" fill-opacity="0.8" stroke="#000" stroke-opacity="0.9" stroke-width="1.33"/>
<path d="M431.2 1328.6L435.4 1337.1L426.9 1337.1Z" fill="#2a788e" fill-opacity="0.8" stroke="#000" stroke-opacity="0.9" stroke-width="1.33" stroke-linejoin="miter"/>
<circle cx="451.1" cy="1395.9" r="4.54" fill="#414487" fill-opacity="0.8" stroke="#000" stroke-opacity="0.9" stroke-width="1.33"/>
<path d="M524.5 1329.1L528.8 1337.6L520.2 1337.6Z" fill="#414487" fill-opacity="0.8" stroke="#000" stroke-opacity="0.9" stroke-width="1.33" stroke-linejoin="miter"/>
<rect x="541.2" y="1330.6" width="9.1" height="9.1" fill="#2a788e" fill-opacity="0.8" stroke="#000" stroke-opacity="0.9" stroke-width="1.33"/>
<circle cx="171.1" cy="1341.0" r="3.33" fill="#7ad151" fill-opacity="0.8" stroke="#000" stroke-opacity="0.9" stroke-width="1.33"/>
<path d="M216.4 1338.9L219.5 1345.0L213.3 1345.0Z" fill="#7ad151" fill-opacity="0.8" stroke="#000" stroke-opacity="0.9" stroke-width="1.33" stroke-linejoin="miter"/>
<circle cx="241.4" cy="1351.1" r="3.33" fill="#22a884" fill-opacity="0.8" stroke="#000" stroke-opacity="0.9" stroke-width="1.33"/>
<rect x="302.0" y="1313.5" width="6.7" height="6.7" fill="#7ad151" fill-opacity="0.8" stroke="#000" stroke-opacity="0.9" stroke-width="1.33"/>
<path d="M299.9 1426.5L302.9 1432.6L296.8 1432.6Z" fill="#22a884" fill-opacity="0.8" stroke="#000" stroke-opacity="0.9" stroke-width="1.33" stroke-linejoin="miter"/>
<circle cx="361.9" cy="1388.3" r="3.33" fill="#2a788e" fill-opacity="0.8" stroke="#000" stroke-opacity="0.9" stroke-width="1.33"/>
<rect x="397.2" y="1355.5" width="6.7" height="6.7" fill="#22a884" fill-opacity="0.8" stroke="#000" stroke-opacity="0.9" stroke-width="1.33"/>
<path d="M431.3 1311.2L434.4 1317.3L428.2 1317.3Z" fill="#2a788e" fill-opacity="0.8" stroke="#000" stroke-opacity="0.9" stroke-width="1.33" stroke-linejoin="miter"/>
<circle cx="451.2" cy="1348.4" r="3.33" fill="#414487" fill-opacity="0.8" stroke="#000" stroke-opacity="0.9" stroke-width="1.33"/>
<path d="M524.5 1359.9L527.5 1366.0L521.5 1366.0Z" fill="#414487" fill-opacity="0.8" stroke="#000" stroke-opacity="0.9" stroke-width="1.33" stroke-linejoin="miter"/>
<rect x="539.1" y="1397.3" width="6.7" height="6.7" fill="#2a788e" fill-opacity="0.8" stroke="#000" stroke-opacity="0.9" stroke-width="1.33"/>
<polygon points="194.2,1345.6 196.8,1353.6 205.2,1353.6 198.4,1358.6 201.0,1366.6 194.2,1361.6 187.4,1366.6 190.0,1358.6 183.2,1353.6 191.6,1353.6" fill="#ff7f0e" fill-opacity="0.8" stroke="#000" stroke-opacity="0.9" stroke-width="1.33" stroke-linejoin="bevel"/>
</g>
<rect x="104.5" y="1203.2" width="615.1" height="307.6" fill="none" stroke="#000" stroke-width="1.33"/>
<line x1="98.7" x2="104.5" y1="1493.71" y2="1493.71" stroke="#000" stroke-width="1.33"/>
<line x1="39.9" x2="52.1" y1="1495.8" y2="1495.8" stroke="#000" stroke-width="1.1"/>
<line x1="98.7" x2="104.5" y1="1459.53" y2="1459.53" stroke="#000" stroke-width="1.33"/>
<line x1="49.9" x2="62.1" y1="1461.6" y2="1461.6" stroke="#000" stroke-width="1.1"/>
<line x1="98.7" x2="104.5" y1="1425.36" y2="1425.36" stroke="#000" stroke-width="1.33"/>
<line x1="49.9" x2="62.1" y1="1427.5" y2="1427.5" stroke="#000" stroke-width="1.1"/>
<line x1="98.7" x2="104.5" y1="1391.18" y2="1391.18" stroke="#000" stroke-width="1.33"/>
<line x1="49.9" x2="62.1" y1="1393.3" y2="1393.3" stroke="#000" stroke-width="1.1"/>
<line x1="98.7" x2="104.5" y1="1357.00" y2="1357.00" stroke="#000" stroke-width="1.33"/>
<line x1="98.7" x2="104.5" y1="1322.82" y2="1322.82" stroke="#000" stroke-width="1.33"/>
<line x1="98.7" x2="104.5" y1="1288.64" y2="1288.64" stroke="#000" stroke-width="1.33"/>
<line x1="98.7" x2="104.5" y1="1254.47" y2="1254.47" stroke="#000" stroke-width="1.33"/>
<line x1="98.7" x2="104.5" y1="1220.29" y2="1220.29" stroke="#000" stroke-width="1.33"/>
<line x1="101.1" x2="104.5" y1="1510.80" y2="1510.80" stroke="#000" stroke-width="1"/>
<line x1="101.1" x2="104.5" y1="1476.62" y2="1476.62" stroke="#000" stroke-width="1"/>
<line x1="101.1" x2="104.5" y1="1442.44" y2="1442.44" stroke="#000" stroke-width="1"/>
<line x1="101.1" x2="104.5" y1="1408.27" y2="1408.27" stroke="#000" stroke-width="1"/>
<line x1="101.1" x2="104.5" y1="1374.09" y2="1374.09" stroke="#000" stroke-width="1"/>
<line x1="101.1" x2="104.5" y1="1339.91" y2="1339.91" stroke="#000" stroke-width="1"/>
<line x1="101.1" x2="104.5" y1="1305.73" y2="1305.73" stroke="#000" stroke-width="1"/>
<line x1="101.1" x2="104.5" y1="1271.56" y2="1271.56" stroke="#000" stroke-width="1"/>
<line x1="101.1" x2="104.5" y1="1237.38" y2="1237.38" stroke="#000" stroke-width="1"/>
<line x1="101.1" x2="104.5" y1="1203.20" y2="1203.20" stroke="#000" stroke-width="1"/>
<line x1="146.63" x2="146.63" y1="1510.8" y2="1516.3999999999999" stroke="#000" stroke-width="1.1"/>
<line x1="206.02" x2="206.02" y1="1510.8" y2="1516.3999999999999" stroke="#000" stroke-width="1.1"/>
<line x1="248.15" x2="248.15" y1="1510.8" y2="1516.3999999999999" stroke="#000" stroke-width="1.1"/>
<line x1="280.84" x2="280.84" y1="1510.8" y2="1516.3999999999999" stroke="#000" stroke-width="1.1"/>
<line x1="307.54" x2="307.54" y1="1510.8" y2="1516.3999999999999" stroke="#000" stroke-width="1.1"/>
<line x1="330.12" x2="330.12" y1="1510.8" y2="1516.3999999999999" stroke="#000" stroke-width="1.1"/>
<line x1="349.68" x2="349.68" y1="1510.8" y2="1516.3999999999999" stroke="#000" stroke-width="1.1"/>
<line x1="366.93" x2="366.93" y1="1510.8" y2="1516.3999999999999" stroke="#000" stroke-width="1.1"/>
<line x1="382.36" x2="382.36" y1="1510.8" y2="1521.8" stroke="#000" stroke-width="1.33"/>
<line x1="483.88" x2="483.88" y1="1510.8" y2="1516.3999999999999" stroke="#000" stroke-width="1.1"/>
<line x1="543.26" x2="543.26" y1="1510.8" y2="1516.3999999999999" stroke="#000" stroke-width="1.1"/>
<line x1="585.40" x2="585.40" y1="1510.8" y2="1516.3999999999999" stroke="#000" stroke-width="1.1"/>
<line x1="618.08" x2="618.08" y1="1510.8" y2="1516.3999999999999" stroke="#000" stroke-width="1.1"/>
<line x1="644.78" x2="644.78" y1="1510.8" y2="1516.3999999999999" stroke="#000" stroke-width="1.1"/>
<line x1="667.36" x2="667.36" y1="1510.8" y2="1516.3999999999999" stroke="#000" stroke-width="1.1"/>
<line x1="686.92" x2="686.92" y1="1510.8" y2="1516.3999999999999" stroke="#000" stroke-width="1.1"/>
<line x1="704.17" x2="704.17" y1="1510.8" y2="1516.3999999999999" stroke="#000" stroke-width="1.1"/>
<line x1="719.6" x2="719.6" y1="1510.8" y2="1521.8" stroke="#000" stroke-width="1.33"/>
<rect x="683.6" y="1213.2" width="24.3" height="25.5" rx="4.2" fill="#fff" stroke="#000" stroke-width="1.4"/>
<circle cx="751.0" cy="43.8" r="5" fill="#7ad151"/>
<circle cx="751.0" cy="62.4" r="5" fill="#22a884"/>
<circle cx="751.0" cy="81.0" r="5" fill="#2a788e"/>
<circle cx="751.0" cy="99.6" r="5" fill="#414487"/>
<circle cx="751.0" cy="136.5" r="4.0" fill="#333"/>
<circle cx="751.0" cy="155.0" r="5.2" fill="#333"/>
<circle cx="751.0" cy="173.6" r="7.2" fill="#333"/>
<circle cx="751.0" cy="192.1" r="8.6" fill="#333"/>
<circle cx="751.0" cy="210.6" r="9.9" fill="#333"/>
<circle cx="751.0" cy="229.2" r="10.8" fill="#333"/>
<circle cx="751.0" cy="247.7" r="13.0" fill="#333"/>
<circle cx="751.0" cy="266.2" r="15.0" fill="#333"/>
<circle cx="751.0" cy="284.7" r="16.9" fill="#333"/>
<circle cx="751.0" cy="321.8" r="5" fill="#333"/>
<path d="M751.0 335.3L756.0 345.3L746.0 345.3Z" fill="#333"/>
<rect x="746.0" y="354.0" width="10" height="10" fill="#333"/>

<g style="filter:grayscale(1)">
<g transform="translate(41.8,298.2) rotate(-90)" font-size="20">
<text x="-2.0" y="0" >[</text>
<text x="3.7" y="0" >M</text>
<text x="20.9" y="0" >/</text>
<text x="26.4" y="0" >H</text>
<text x="40.3" y="0" >]</text>
<circle cx="51.8" cy="-0.6" r="4.55" fill="none" stroke="#333" stroke-width="0.75"/><circle cx="51.8" cy="-0.6" r="0.95" fill="#000"/>
<line x1="62.4" x2="74.1" y1="-5.0" y2="-5.0" stroke="#000" stroke-width="1.05"/>
<text x="79.2" y="0" letter-spacing="0.15">Med</text>
<text x="115.8" y="0" >(</text>
<text x="123.0" y="0" >[</text>
<text x="128.7" y="0" >M</text>
<text x="145.7" y="0" >/</text>
<text x="151.1" y="0" >H</text>
<text x="165.3" y="0" >]</text>
<text x="171.7" y="0" >)</text>
<text x="184.6" y="0" letter-spacing="-0.2">(dex)</text>
</g>
<g transform="translate(41.8,697.7) rotate(-90)" font-size="20">
<text x="-1.9" y="0" >[</text>
<text x="3.6" y="0" font-style="italic" font-size="23">α</text>
<line x1="19.2" x2="26.0" y1="4.0" y2="-14.9" stroke="#000" stroke-width="1.0"/>
<text x="27.5" y="0" >M</text>
<text x="45.2" y="0" >]</text>
<circle cx="56.8" cy="-0.6" r="4.55" fill="none" stroke="#333" stroke-width="0.75"/><circle cx="56.8" cy="-0.6" r="0.95" fill="#000"/>
<line x1="67.4" x2="79.1" y1="-5.0" y2="-5.0" stroke="#000" stroke-width="1.05"/>
<text x="84.2" y="0" letter-spacing="0.15">Med</text>
<text x="120.4" y="0" >(</text>
<text x="128.6" y="0" >[</text>
<text x="133.8" y="0" font-style="italic" font-size="23">α</text>
<line x1="149.4" x2="156.5" y1="4.0" y2="-14.9" stroke="#000" stroke-width="1.0"/>
<text x="158.1" y="0" >M</text>
<text x="175.2" y="0" >]</text>
<text x="181.4" y="0" >)</text>
<text x="195.0" y="0" letter-spacing="-0.45">(dex)</text>
</g>
<g transform="translate(31.7,1083.1) rotate(-90)" font-size="20">
<text x="-0.4" y="0" letter-spacing="0.25">log</text>
<text x="26.9" y="0" >(</text>
<text x="34.1" y="0" font-style="italic">g</text>
<text x="43.5" y="0" >)</text>
<circle cx="55.7" cy="-0.6" r="4.55" fill="none" stroke="#333" stroke-width="0.75"/><circle cx="55.7" cy="-0.6" r="0.95" fill="#000"/>
<line x1="66.9" x2="79.1" y1="-5.0" y2="-5.0" stroke="#000" stroke-width="1.05"/>
<text x="83.6" y="0" >Med</text>
<text x="120.1" y="0" >[</text>
<text x="126.1" y="0" letter-spacing="-0.5">log</text>
<text x="151.9" y="0" >(</text>
<text x="159.2" y="0" font-style="italic">g</text>
<text x="168.6" y="0" >)</text>
<text x="176.1" y="0" >]</text>
<text x="186.7" y="0" >(dex)</text>
</g>
<g transform="translate(24.7,1433.7) rotate(-90)" font-size="20">
<text x="-1.2" y="0" font-style="italic">T</text>
<circle cx="14.5" cy="-0.6" r="4.55" fill="none" stroke="#333" stroke-width="0.75"/><circle cx="14.5" cy="-0.6" r="0.95" fill="#000"/>
<line x1="25.8" x2="37.6" y1="-5.0" y2="-5.0" stroke="#000" stroke-width="1.05"/>
<text x="42.7" y="0" letter-spacing="-0.3">Med</text>
<text x="79.0" y="0" >[</text>
<text x="83.7" y="0" font-style="italic">T</text>
<text x="93.3"  font-size="19.6" y="7.5">eff</text>
<text x="116.0" y="0" >]</text>
<text x="126.4" y="0" >(</text>
<text x="133.4" y="0" >K</text>
<text x="147.8" y="0" >)</text>
</g>
<text x="92.7" y="347.7" font-size="20" text-anchor="end">0.6</text>
<text x="92.7" y="322.0" font-size="20" text-anchor="end">0.5</text>
<text x="92.7" y="296.4" font-size="20" text-anchor="end">0.4</text>
<text x="92.7" y="270.7" font-size="20" text-anchor="end">0.3</text>
<text x="92.7" y="245.0" font-size="20" text-anchor="end">0.2</text>
<text x="92.7" y="219.4" font-size="20" text-anchor="end">0.1</text>
<text x="92.7" y="193.7" font-size="20" text-anchor="end">0.0</text>
<text x="92.7" y="168.0" font-size="20" text-anchor="end">0.1</text>
<text x="92.7" y="142.4" font-size="20" text-anchor="end">0.2</text>
<text x="92.7" y="116.7" font-size="20" text-anchor="end">0.3</text>
<text x="92.7" y="91.0" font-size="20" text-anchor="end">0.4</text>
<text x="92.7" y="65.4" font-size="20" text-anchor="end">0.5</text>
<text x="92.7" y="39.7" font-size="20" text-anchor="end">0.6</text>
<text x="369.8" y="371.9" font-size="19.2">10</text>
<text x="388.1" y="363.9" font-size="13.6">5</text>
<text x="707.0" y="371.9" font-size="19.2">10</text>
<text x="725.3" y="363.9" font-size="13.6">6</text>
<text x="369.8" y="394.1" font-size="19.6" font-style="italic">N</text>
<text x="381.8" y="401.1" font-size="19.9">offspring</text>
<text x="688.9" y="59.5" font-size="16.67">a)</text>
<text x="92.7" y="742.2" font-size="20" text-anchor="end">0.5</text>
<text x="92.7" y="711.4" font-size="20" text-anchor="end">0.4</text>
<text x="92.7" y="680.6" font-size="20" text-anchor="end">0.3</text>
<text x="92.7" y="649.8" font-size="20" text-anchor="end">0.2</text>
<text x="92.7" y="619.0" font-size="20" text-anchor="end">0.1</text>
<text x="92.7" y="588.2" font-size="20" text-anchor="end">0.0</text>
<text x="92.7" y="557.5" font-size="20" text-anchor="end">0.1</text>
<text x="92.7" y="526.7" font-size="20" text-anchor="end">0.2</text>
<text x="92.7" y="495.9" font-size="20" text-anchor="end">0.3</text>
<text x="92.7" y="465.1" font-size="20" text-anchor="end">0.4</text>
<text x="92.7" y="434.3" font-size="20" text-anchor="end">0.5</text>
<text x="369.8" y="766.4" font-size="19.2">10</text>
<text x="388.1" y="758.4" font-size="13.6">5</text>
<text x="707.0" y="766.4" font-size="19.2">10</text>
<text x="725.3" y="758.4" font-size="13.6">6</text>
<text x="369.8" y="788.6" font-size="19.6" font-style="italic">N</text>
<text x="381.8" y="795.6" font-size="19.9">offspring</text>
<text x="688.9" y="454.1" font-size="16.67">b)</text>
<text x="92.4" y="1119.8" font-size="20" text-anchor="end">1.75</text>
<text x="92.4" y="1099.3" font-size="20" text-anchor="end">1.50</text>
<text x="92.4" y="1078.8" font-size="20" text-anchor="end">1.25</text>
<text x="92.4" y="1058.3" font-size="20" text-anchor="end">1.00</text>
<text x="92.4" y="1037.8" font-size="20" text-anchor="end">0.75</text>
<text x="92.4" y="1017.3" font-size="20" text-anchor="end">0.50</text>
<text x="92.4" y="996.8" font-size="20" text-anchor="end">0.25</text>
<text x="92.4" y="976.3" font-size="20" text-anchor="end">0.00</text>
<text x="92.4" y="955.7" font-size="20" text-anchor="end">0.25</text>
<text x="92.4" y="935.2" font-size="20" text-anchor="end">0.50</text>
<text x="92.4" y="914.7" font-size="20" text-anchor="end">0.75</text>
<text x="92.4" y="894.2" font-size="20" text-anchor="end">1.00</text>
<text x="92.4" y="873.7" font-size="20" text-anchor="end">1.25</text>
<text x="92.4" y="853.2" font-size="20" text-anchor="end">1.50</text>
<text x="92.4" y="832.7" font-size="20" text-anchor="end">1.75</text>
<text x="369.8" y="1154.3" font-size="19.2">10</text>
<text x="388.1" y="1146.3" font-size="13.6">5</text>
<text x="707.0" y="1154.3" font-size="19.2">10</text>
<text x="725.3" y="1146.3" font-size="13.6">6</text>
<text x="369.8" y="1176.5" font-size="19.6" font-style="italic">N</text>
<text x="381.8" y="1183.5" font-size="19.9">offspring</text>
<text x="688.9" y="842.2" font-size="16.67">c)</text>
<text x="93.3" y="1500.9" font-size="20" text-anchor="end">1000</text>
<text x="93.3" y="1466.7" font-size="20" text-anchor="end">750</text>
<text x="93.3" y="1432.6" font-size="20" text-anchor="end">500</text>
<text x="93.3" y="1398.4" font-size="20" text-anchor="end">250</text>
<text x="93.3" y="1364.2" font-size="20" text-anchor="end">0</text>
<text x="93.3" y="1330.0" font-size="20" text-anchor="end">250</text>
<text x="93.3" y="1295.8" font-size="20" text-anchor="end">500</text>
<text x="93.3" y="1261.7" font-size="20" text-anchor="end">750</text>
<text x="93.3" y="1227.5" font-size="20" text-anchor="end">1000</text>
<text x="369.8" y="1542.2" font-size="19.2">10</text>
<text x="388.1" y="1534.2" font-size="13.6">5</text>
<text x="707.0" y="1542.2" font-size="19.2">10</text>
<text x="725.3" y="1534.2" font-size="13.6">6</text>
<text x="369.8" y="1564.4" font-size="19.6" font-style="italic">N</text>
<text x="381.8" y="1571.4" font-size="19.9">offspring</text>
<text x="688.9" y="1230.2" font-size="16.67">d)</text>
<text x="781.0" y="28.9" font-size="17"><tspan font-style="italic">N</tspan><tspan font-style="italic" font-size="12" dy="2.6" dx="-0.8">p</tspan></text>
<text x="781.3" y="48.1" font-size="16.3">5</text>
<text x="781.3" y="66.6" font-size="16.3">10</text>
<text x="781.3" y="85.2" font-size="16.3">15</text>
<text x="781.3" y="103.9" font-size="16.3">20</text>
<text x="781.0" y="123.2" font-size="17"><tspan font-style="italic">N</tspan><tspan font-size="11" dy="2.0" dx="-0.6">0</tspan></text>
<text x="781.3" y="140.8" font-size="16.3">25</text>
<text x="781.3" y="159.3" font-size="16.3">50</text>
<text x="781.3" y="177.9" font-size="16.3">75</text>
<text x="781.3" y="196.4" font-size="16.3">100</text>
<text x="781.3" y="214.9" font-size="16.3">250</text>
<text x="781.3" y="233.4" font-size="16.3">500</text>
<text x="781.3" y="252.0" font-size="16.3">750</text>
<text x="781.3" y="270.5" font-size="16.3">1000</text>
<text x="781.3" y="289.0" font-size="16.3">2500</text>
<text x="780.3" y="307.3" font-size="17" font-style="italic">p</text>
<text x="781.3" y="326.1" font-size="16.3">0.4</text>
<text x="781.3" y="344.6" font-size="16.3">0.6</text>
<text x="781.3" y="363.3" font-size="16.3">0.8</text>
</g>
</svg></body></html>
